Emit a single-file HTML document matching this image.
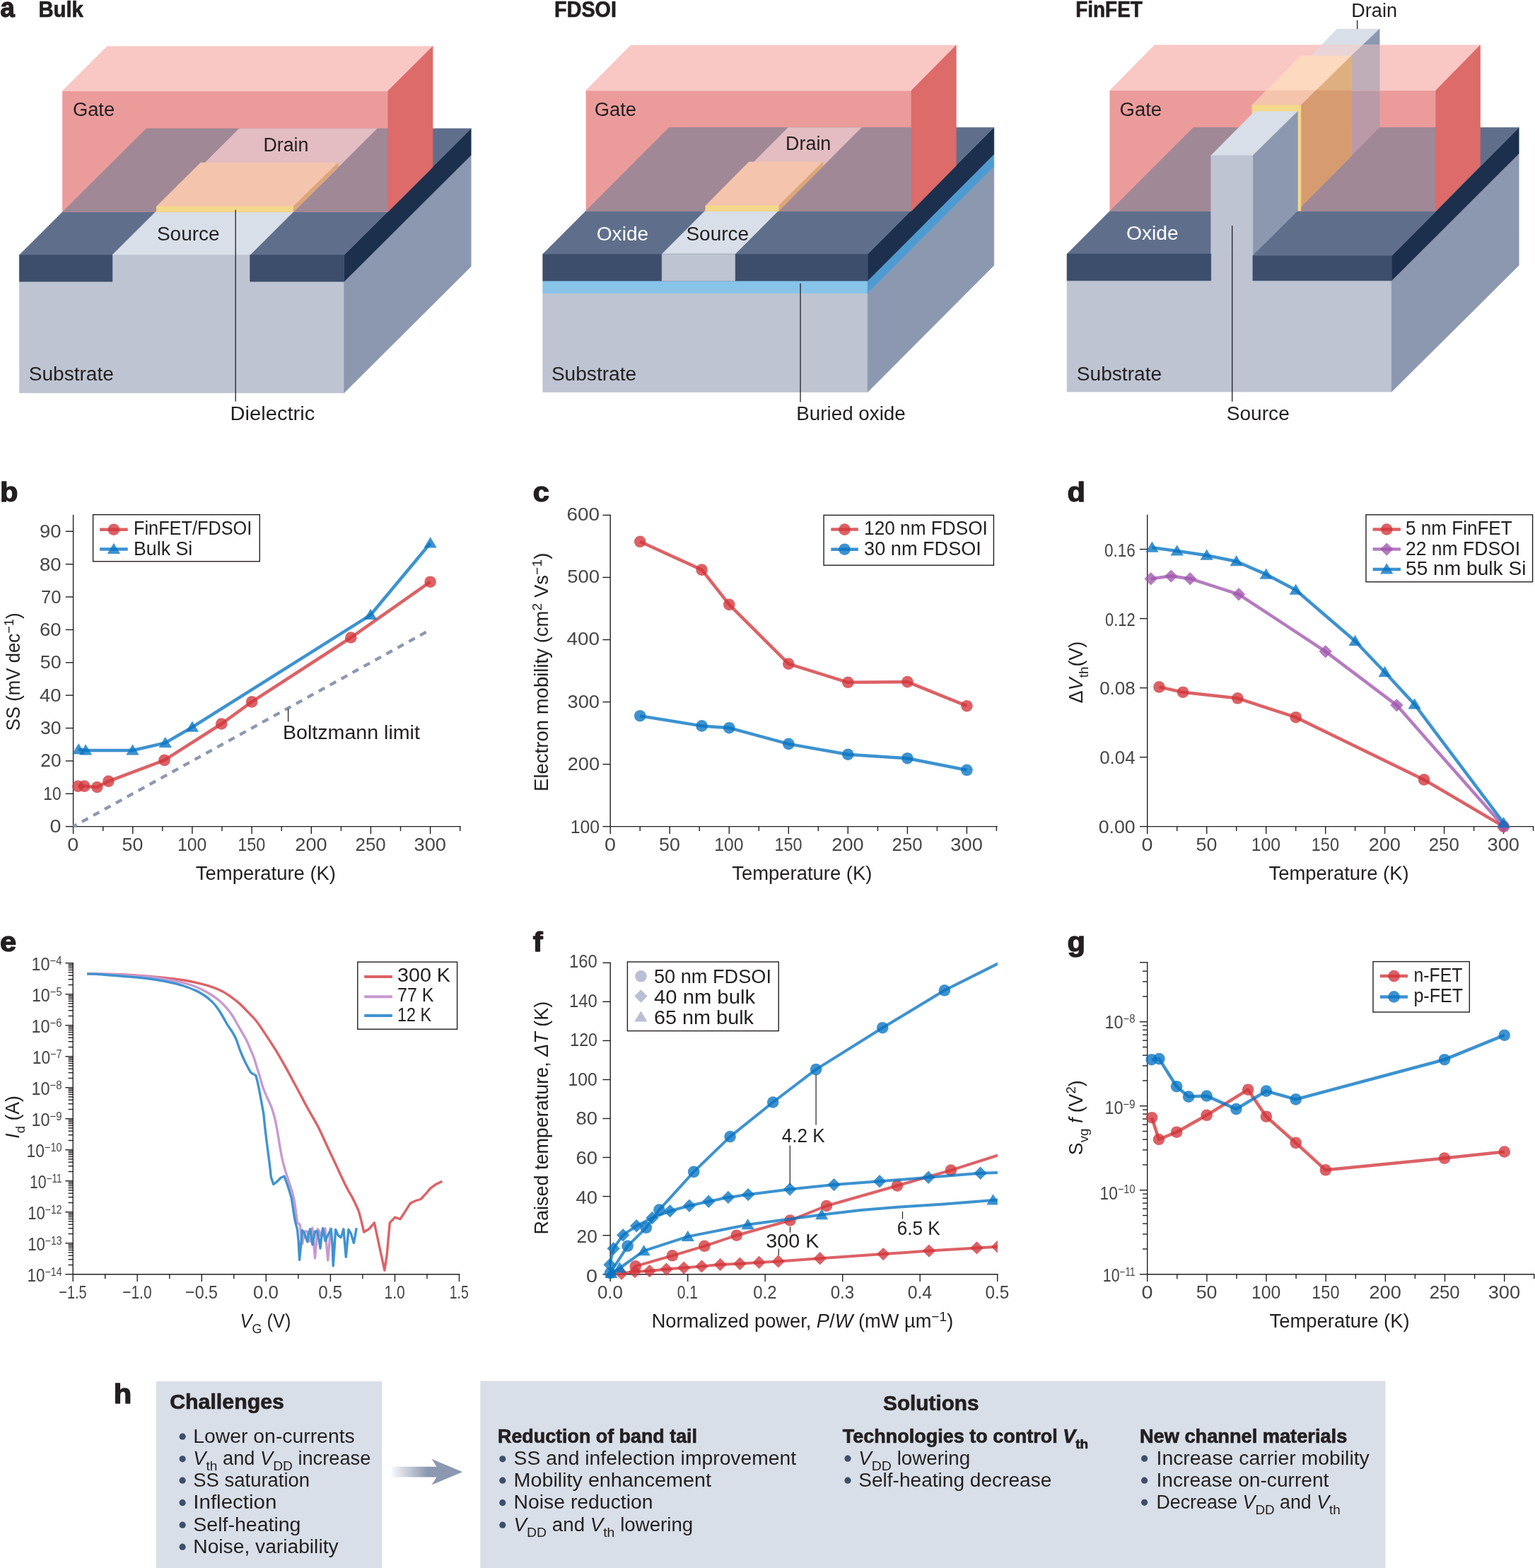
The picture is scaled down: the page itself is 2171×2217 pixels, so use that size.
<!DOCTYPE html>
<html lang="en"><head><meta charset="utf-8"><title>Cryogenic CMOS figure</title>
<style>
html,body{margin:0;padding:0;background:#fff}
body{width:2171px;height:2217px;overflow:hidden}
svg{display:block;font-family:"Liberation Sans", sans-serif}
</style></head><body>
<svg width="2171" height="2217" viewBox="0 0 2171 2217">
<rect width="2171" height="2217" fill="#ffffff"/>
<rect x="27.4" y="360.5" width="459.3" height="195.0" fill="#bec4d2" stroke="#bec4d2" stroke-width="0.6" stroke-linejoin="round" />
<polygon points="486.7,398.1 666.2,219.4 666.2,376.8 486.7,555.5" fill="#8c98b0" stroke="#8c98b0" stroke-width="0.6" stroke-linejoin="round" />
<polygon points="486.7,360.5 666.2,181.8 666.2,219.4 486.7,398.1" fill="#1c2f4d" stroke="#1c2f4d" stroke-width="0.6" stroke-linejoin="round" />
<polygon points="27.4,360.5 486.7,360.5 666.2,181.8 206.9,181.8" fill="#5f6f8b" stroke="#5f6f8b" stroke-width="0.6" stroke-linejoin="round" />
<polygon points="158.9,360.5 353.6,360.5 533.1,181.8 338.4,181.8" fill="#d9dfe8" stroke="#d9dfe8" stroke-width="0.6" stroke-linejoin="round" />
<rect x="27.4" y="360.5" width="131.5" height="37.6" fill="#3d4e6c" stroke="#3d4e6c" stroke-width="0.6" stroke-linejoin="round" />
<rect x="353.6" y="360.5" width="133.1" height="37.6" fill="#3d4e6c" stroke="#3d4e6c" stroke-width="0.6" stroke-linejoin="round" />
<rect x="88.2" y="128.5" width="460.5" height="171.1" fill="#ec9b9b" />
<clipPath id="cgb"><rect x="88.2" y="128.5" width="460.50000000000006" height="171.10000000000002"/></clipPath>
<g clip-path="url(#cgb)">
<polygon points="27.4,360.5 486.7,360.5 666.2,181.8 206.9,181.8" fill="#a08896" stroke="#a08896" stroke-width="0.6" stroke-linejoin="round" />
<polygon points="158.9,360.5 353.6,360.5 533.1,181.8 338.4,181.8" fill="#e3bdc1" stroke="#e3bdc1" stroke-width="0.6" stroke-linejoin="round" />
</g>
<polygon points="88.2,128.5 151.5,65.4 612.0,65.4 548.7,128.5" fill="#f9c8c4" stroke="#f9c8c4" stroke-width="0.6" stroke-linejoin="round" />
<polygon points="548.7,128.5 612.0,65.4 612.0,236.5 548.7,299.6" fill="#dc6b69" stroke="#dc6b69" stroke-width="0.6" stroke-linejoin="round" />
<polygon points="221.3,292.0 283.8,230.0 478.1,230.0 414.6,292.0" fill="#f5c4ad" stroke="#f5c4ad" stroke-width="0.6" stroke-linejoin="round" />
<polygon points="414.6,292.0 478.1,230.0 478.1,236.6 414.6,299.6" fill="#dda679" stroke="#dda679" stroke-width="0.6" stroke-linejoin="round" />
<rect x="221.3" y="292.0" width="193.3" height="7.6" fill="#f4d88a" stroke="#f4d88a" stroke-width="0.6" stroke-linejoin="round" />
<text x="0.6" y="24.2" font-size="39" font-weight="bold" fill="#231f20" stroke="#231f20" stroke-width="1.3" stroke-linejoin="round" textLength="20.3" lengthAdjust="spacingAndGlyphs">a</text>
<text x="54.4" y="23.6" font-size="31" fill="#231f20" font-weight="bold" stroke="#231f20" stroke-width="0.7" textLength="63.5" lengthAdjust="spacingAndGlyphs">Bulk</text>
<text x="102.9" y="164.1" font-size="27" fill="#231f20" textLength="59.3" lengthAdjust="spacingAndGlyphs">Gate</text>
<text x="372.4" y="214.0" font-size="27" fill="#231f20" textLength="64.0" lengthAdjust="spacingAndGlyphs">Drain</text>
<text x="221.9" y="339.6" font-size="27" fill="#231f20" textLength="88.7" lengthAdjust="spacingAndGlyphs">Source</text>
<text x="40.7" y="537.6" font-size="27" fill="#231f20" textLength="120.2" lengthAdjust="spacingAndGlyphs">Substrate</text>
<text x="325.6" y="594.0" font-size="27" fill="#231f20" textLength="119.7" lengthAdjust="spacingAndGlyphs">Dielectric</text>
<line x1="333.2" y1="296.8" x2="333.2" y2="567.8" stroke="#231f20" stroke-width="1.3" />
<rect x="767.7" y="414.6" width="459.4" height="139.8" fill="#bec4d2" stroke="#bec4d2" stroke-width="0.6" stroke-linejoin="round" />
<rect x="767.7" y="397.1" width="459.4" height="17.5" fill="#88c3e9" stroke="#88c3e9" stroke-width="0.6" stroke-linejoin="round" />
<polygon points="1227.1,414.6 1405.8,235.5 1405.8,375.3 1227.1,554.4" fill="#8c98b0" stroke="#8c98b0" stroke-width="0.6" stroke-linejoin="round" />
<polygon points="1227.1,397.1 1405.8,218.0 1405.8,235.5 1227.1,414.6" fill="#4f9ad0" stroke="#4f9ad0" stroke-width="0.6" stroke-linejoin="round" />
<polygon points="1227.1,359.3 1405.8,180.2 1405.8,218.0 1227.1,397.1" fill="#1c2f4d" stroke="#1c2f4d" stroke-width="0.6" stroke-linejoin="round" />
<polygon points="767.7,359.3 1227.1,359.3 1405.8,180.2 946.4,180.2" fill="#5f6f8b" stroke="#5f6f8b" stroke-width="0.6" stroke-linejoin="round" />
<polygon points="936.2,359.3 1039.6,359.3 1218.3,180.2 1114.9,180.2" fill="#d9dfe8" stroke="#d9dfe8" stroke-width="0.6" stroke-linejoin="round" />
<rect x="767.7" y="359.3" width="459.4" height="37.8" fill="#3d4e6c" stroke="#3d4e6c" stroke-width="0.6" stroke-linejoin="round" />
<rect x="936.2" y="359.3" width="103.4" height="37.8" fill="#bec4d2" stroke="#bec4d2" stroke-width="0.6" stroke-linejoin="round" />
<rect x="828.6" y="128.1" width="460.4" height="170.4" fill="#ec9b9b" />
<clipPath id="cgf"><rect x="828.6" y="128.1" width="460.4" height="170.4"/></clipPath>
<g clip-path="url(#cgf)">
<polygon points="767.7,359.3 1227.1,359.3 1405.8,180.2 946.4,180.2" fill="#a08896" stroke="#a08896" stroke-width="0.6" stroke-linejoin="round" />
<polygon points="936.2,359.3 1039.6,359.3 1218.3,180.2 1114.9,180.2" fill="#e3bdc1" stroke="#e3bdc1" stroke-width="0.6" stroke-linejoin="round" />
</g>
<polygon points="828.6,128.1 891.9,63.9 1352.3,63.9 1289.0,128.1" fill="#f9c8c4" stroke="#f9c8c4" stroke-width="0.6" stroke-linejoin="round" />
<polygon points="1289.0,128.1 1352.3,63.9 1352.3,234.3 1289.0,298.5" fill="#dc6b69" stroke="#dc6b69" stroke-width="0.6" stroke-linejoin="round" />
<polygon points="997.8,290.9 1059.3,228.9 1163.7,228.9 1101.2,290.9" fill="#f5c4ad" stroke="#f5c4ad" stroke-width="0.6" stroke-linejoin="round" />
<polygon points="1101.2,290.9 1163.7,228.9 1163.7,235.5 1101.2,298.5" fill="#dda679" stroke="#dda679" stroke-width="0.6" stroke-linejoin="round" />
<rect x="997.8" y="290.9" width="103.4" height="7.6" fill="#f4d88a" stroke="#f4d88a" stroke-width="0.6" stroke-linejoin="round" />
<text x="784.1" y="23.6" font-size="31" fill="#231f20" font-weight="bold" stroke="#231f20" stroke-width="0.7" textLength="87.8" lengthAdjust="spacingAndGlyphs">FDSOI</text>
<text x="840.7" y="164.1" font-size="27" fill="#231f20" textLength="59.3" lengthAdjust="spacingAndGlyphs">Gate</text>
<text x="1111.1" y="212.4" font-size="27" fill="#231f20" textLength="64.2" lengthAdjust="spacingAndGlyphs">Drain</text>
<text x="843.8" y="339.6" font-size="27" fill="#ffffff" textLength="73.3" lengthAdjust="spacingAndGlyphs">Oxide</text>
<text x="970.4" y="339.6" font-size="27" fill="#231f20" textLength="88.7" lengthAdjust="spacingAndGlyphs">Source</text>
<text x="779.9" y="537.5" font-size="27" fill="#231f20" textLength="120.2" lengthAdjust="spacingAndGlyphs">Substrate</text>
<text x="1126.3" y="593.8" font-size="27" fill="#231f20" textLength="154.5" lengthAdjust="spacingAndGlyphs">Buried oxide</text>
<line x1="1132.0" y1="400.4" x2="1132.0" y2="568.5" stroke="#231f20" stroke-width="1.3" />
<polygon points="1509.1,358.8 1968.2,358.8 1968.2,554.0 1509.1,554.0" fill="#bec4d2" stroke="#bec4d2" stroke-width="0.6" stroke-linejoin="round" />
<polygon points="1968.2,396.8 2148.2,217.2 2148.2,375.2 1968.2,554.0" fill="#8c98b0" stroke="#8c98b0" stroke-width="0.6" stroke-linejoin="round" />
<polygon points="1968.2,361.7 2148.2,180.3 2148.2,217.2 1968.2,396.8" fill="#1c2f4d" stroke="#1c2f4d" stroke-width="0.6" stroke-linejoin="round" />
<polygon points="1509.1,359.1 1771.9,359.1 1771.9,361.7 1968.2,361.7 2148.2,180.3 1688.0,180.3" fill="#5f6f8b" stroke="#5f6f8b" stroke-width="0.6" stroke-linejoin="round" />
<polygon points="1854.3,79.0 1891.1,41.0 1951.1,41.0 1911.3,79.0" fill="#d9dfe8" stroke="#d9dfe8" stroke-width="0.6" stroke-linejoin="round" />
<polygon points="1911.3,79.0 1951.1,41.0 1951.1,180.0 1911.3,220.2" fill="#8c98b0" stroke="#8c98b0" stroke-width="0.6" stroke-linejoin="round" />
<polygon points="1569.5,128.0 2030.5,128.0 2030.5,298.6 1569.5,298.6" fill="#ec9b9b" />
<clipPath id="cgn"><polygon points="1569.5,128.0 2030.5,128.0 2030.5,298.6 1569.5,298.6"/></clipPath>
<g clip-path="url(#cgn)">
<polygon points="1509.1,359.1 1771.9,359.1 1771.9,361.7 1968.2,361.7 2148.2,180.3 1688.0,180.3" fill="#a08896" stroke="#a08896" stroke-width="0.6" stroke-linejoin="round" />
<polygon points="1911.3,79.0 1951.1,41.0 1951.1,180.0 1911.3,220.2" fill="#ba9aa6" stroke="#ba9aa6" stroke-width="0.6" stroke-linejoin="round" />
</g>
<polygon points="1569.5,128.0 1632.9,63.8 2093.5,63.8 2030.5,128.0" fill="#f9c8c4" stroke="#f9c8c4" stroke-width="0.6" stroke-linejoin="round" />
<clipPath id="cgt"><polygon points="1569.5,128.0 1632.9,63.8 2093.5,63.8 2030.5,128.0"/></clipPath>
<g clip-path="url(#cgt)">
<polygon points="1854.3,79.0 1891.1,41.0 1951.1,41.0 1911.3,79.0" fill="#ead5d6" stroke="#ead5d6" stroke-width="0.6" stroke-linejoin="round" />
<polygon points="1911.3,79.0 1951.1,41.0 1951.1,180.0 1911.3,220.2" fill="#bfadb8" stroke="#bfadb8" stroke-width="0.6" stroke-linejoin="round" />
</g>
<polygon points="2030.5,128.0 2093.5,63.8 2093.5,234.7 2030.5,298.6" fill="#dc6b69" stroke="#dc6b69" stroke-width="0.6" stroke-linejoin="round" />
<polygon points="1770.8,148.9 1839.1,79.0 1911.3,79.0 1839.9,148.9" fill="#fdd9c0" stroke="#fdd9c0" stroke-width="0.6" stroke-linejoin="round" />
<polygon points="1770.8,148.9 1791.6,128.0 1861.1,128.0 1839.9,148.9" fill="#f5c4ad" stroke="#f5c4ad" stroke-width="0.6" stroke-linejoin="round" />
<polygon points="1839.9,148.9 1911.3,79.0 1911.3,220.2 1839.9,292.4" fill="#dfb07f" stroke="#dfb07f" stroke-width="0.6" stroke-linejoin="round" />
<polygon points="1839.9,148.9 1861.1,128.0 1911.3,128.0 1911.3,220.2 1839.9,292.4" fill="#d79b70" stroke="#d79b70" stroke-width="0.6" stroke-linejoin="round" />
<polygon points="1770.8,148.9 1839.9,148.9 1839.9,298.1 1770.8,298.1" fill="#f4d88a" stroke="#f4d88a" stroke-width="0.6" stroke-linejoin="round" />
<polygon points="1712.7,219.9 1774.6,157.6 1835.3,157.6 1771.9,219.9" fill="#d9dfe8" stroke="#d9dfe8" stroke-width="0.6" stroke-linejoin="round" />
<polygon points="1771.9,219.9 1835.3,157.6 1835.3,298.1 1771.9,360.7" fill="#8c98b0" stroke="#8c98b0" stroke-width="0.6" stroke-linejoin="round" />
<polygon points="1712.7,219.9 1771.9,219.9 1771.9,360.7 1712.7,360.7" fill="#bec4d2" stroke="#bec4d2" stroke-width="0.6" stroke-linejoin="round" />
<polygon points="1509.1,359.1 1712.7,359.1 1712.7,396.8 1509.1,396.8" fill="#3d4e6c" stroke="#3d4e6c" stroke-width="0.6" stroke-linejoin="round" />
<polygon points="1771.9,361.7 1968.2,361.7 1968.2,396.8 1771.9,396.8" fill="#3d4e6c" stroke="#3d4e6c" stroke-width="0.6" stroke-linejoin="round" />
<text x="1521.3" y="23.6" font-size="31" fill="#231f20" font-weight="bold" stroke="#231f20" stroke-width="0.7" textLength="94.5" lengthAdjust="spacingAndGlyphs">FinFET</text>
<text x="1911.3" y="23.5" font-size="27" fill="#231f20" textLength="64.7" lengthAdjust="spacingAndGlyphs">Drain</text>
<line x1="1919.6" y1="28.5" x2="1919.6" y2="41.0" stroke="#231f20" stroke-width="1.3" />
<text x="1583.6" y="164.1" font-size="27" fill="#231f20" textLength="59.5" lengthAdjust="spacingAndGlyphs">Gate</text>
<text x="1593.0" y="339.3" font-size="27" fill="#ffffff" textLength="73.8" lengthAdjust="spacingAndGlyphs">Oxide</text>
<text x="1522.8" y="537.5" font-size="27" fill="#231f20" textLength="120.3" lengthAdjust="spacingAndGlyphs">Substrate</text>
<text x="1734.7" y="594.0" font-size="27" fill="#231f20" textLength="89.1" lengthAdjust="spacingAndGlyphs">Source</text>
<line x1="1742.7" y1="319.0" x2="1742.7" y2="567.7" stroke="#231f20" stroke-width="1.3" />
<line x1="103.6" y1="727.7" x2="103.6" y2="1168.6" stroke="#231f20" stroke-width="1.4" />
<line x1="103.6" y1="1168.6" x2="651.7" y2="1168.6" stroke="#231f20" stroke-width="1.4" />
<line x1="103.6" y1="1168.6" x2="103.6" y2="1179.0" stroke="#231f20" stroke-width="1.4" />
<text x="103.3" y="1203.2" font-size="26" fill="#454545" text-anchor="middle" textLength="16.0" lengthAdjust="spacingAndGlyphs">0</text>
<line x1="187.8" y1="1168.6" x2="187.8" y2="1179.0" stroke="#231f20" stroke-width="1.4" />
<text x="187.5" y="1203.2" font-size="26" fill="#454545" text-anchor="middle" textLength="29.8" lengthAdjust="spacingAndGlyphs">50</text>
<line x1="271.9" y1="1168.6" x2="271.9" y2="1179.0" stroke="#231f20" stroke-width="1.4" />
<text x="271.6" y="1203.2" font-size="26" fill="#454545" text-anchor="middle" textLength="41.3" lengthAdjust="spacingAndGlyphs">100</text>
<line x1="356.1" y1="1168.6" x2="356.1" y2="1179.0" stroke="#231f20" stroke-width="1.4" />
<text x="355.8" y="1203.2" font-size="26" fill="#454545" text-anchor="middle" textLength="39.1" lengthAdjust="spacingAndGlyphs">150</text>
<line x1="440.3" y1="1168.6" x2="440.3" y2="1179.0" stroke="#231f20" stroke-width="1.4" />
<text x="440.0" y="1203.2" font-size="26" fill="#454545" text-anchor="middle" textLength="45.3" lengthAdjust="spacingAndGlyphs">200</text>
<line x1="524.4" y1="1168.6" x2="524.4" y2="1179.0" stroke="#231f20" stroke-width="1.4" />
<text x="524.1" y="1203.2" font-size="26" fill="#454545" text-anchor="middle" textLength="43.1" lengthAdjust="spacingAndGlyphs">250</text>
<line x1="608.6" y1="1168.6" x2="608.6" y2="1179.0" stroke="#231f20" stroke-width="1.4" />
<text x="608.3" y="1203.2" font-size="26" fill="#454545" text-anchor="middle" textLength="45.5" lengthAdjust="spacingAndGlyphs">300</text>
<line x1="145.7" y1="1168.6" x2="145.7" y2="1174.9" stroke="#231f20" stroke-width="1.4" />
<line x1="229.8" y1="1168.6" x2="229.8" y2="1174.9" stroke="#231f20" stroke-width="1.4" />
<line x1="314.0" y1="1168.6" x2="314.0" y2="1174.9" stroke="#231f20" stroke-width="1.4" />
<line x1="398.2" y1="1168.6" x2="398.2" y2="1174.9" stroke="#231f20" stroke-width="1.4" />
<line x1="482.4" y1="1168.6" x2="482.4" y2="1174.9" stroke="#231f20" stroke-width="1.4" />
<line x1="566.5" y1="1168.6" x2="566.5" y2="1174.9" stroke="#231f20" stroke-width="1.4" />
<line x1="650.7" y1="1168.6" x2="650.7" y2="1174.9" stroke="#231f20" stroke-width="1.4" />
<line x1="92.8" y1="1168.6" x2="103.6" y2="1168.6" stroke="#231f20" stroke-width="1.4" />
<text x="86.6" y="1176.8" font-size="26" fill="#454545" text-anchor="end" textLength="16.0" lengthAdjust="spacingAndGlyphs">0</text>
<line x1="92.8" y1="1122.2" x2="103.6" y2="1122.2" stroke="#231f20" stroke-width="1.4" />
<text x="86.6" y="1130.5" font-size="26" fill="#454545" text-anchor="end" textLength="25.3" lengthAdjust="spacingAndGlyphs">10</text>
<line x1="92.8" y1="1075.9" x2="103.6" y2="1075.9" stroke="#231f20" stroke-width="1.4" />
<text x="86.6" y="1084.2" font-size="26" fill="#454545" text-anchor="end" textLength="29.3" lengthAdjust="spacingAndGlyphs">20</text>
<line x1="92.8" y1="1029.5" x2="103.6" y2="1029.5" stroke="#231f20" stroke-width="1.4" />
<text x="86.6" y="1037.9" font-size="26" fill="#454545" text-anchor="end" textLength="29.5" lengthAdjust="spacingAndGlyphs">30</text>
<line x1="92.8" y1="983.1" x2="103.6" y2="983.1" stroke="#231f20" stroke-width="1.4" />
<text x="86.6" y="991.6" font-size="26" fill="#454545" text-anchor="end" textLength="30.5" lengthAdjust="spacingAndGlyphs">40</text>
<line x1="92.8" y1="936.8" x2="103.6" y2="936.8" stroke="#231f20" stroke-width="1.4" />
<text x="86.6" y="945.3" font-size="26" fill="#454545" text-anchor="end" textLength="29.8" lengthAdjust="spacingAndGlyphs">50</text>
<line x1="92.8" y1="890.4" x2="103.6" y2="890.4" stroke="#231f20" stroke-width="1.4" />
<text x="86.6" y="899.0" font-size="26" fill="#454545" text-anchor="end" textLength="30.5" lengthAdjust="spacingAndGlyphs">60</text>
<line x1="92.8" y1="844.0" x2="103.6" y2="844.0" stroke="#231f20" stroke-width="1.4" />
<text x="86.6" y="852.7" font-size="26" fill="#454545" text-anchor="end" textLength="28.5" lengthAdjust="spacingAndGlyphs">70</text>
<line x1="92.8" y1="797.7" x2="103.6" y2="797.7" stroke="#231f20" stroke-width="1.4" />
<text x="86.6" y="806.5" font-size="26" fill="#454545" text-anchor="end" textLength="30.5" lengthAdjust="spacingAndGlyphs">80</text>
<line x1="92.8" y1="751.3" x2="103.6" y2="751.3" stroke="#231f20" stroke-width="1.4" />
<text x="86.6" y="760.2" font-size="26" fill="#454545" text-anchor="end" textLength="30.5" lengthAdjust="spacingAndGlyphs">90</text>
<line x1="103.6" y1="1168.6" x2="608.6" y2="890.4" stroke="#8c98b0" stroke-width="4.3" stroke-dasharray="9.6 8.6" stroke-dashoffset="4"/>
<polyline points="110.3,1111.6 119.3,1111.6 137.3,1113.0 153.4,1104.6 232.5,1074.9 313.2,1023.5 356.1,992.4 496.3,901.5 608.6,822.7" fill="none" stroke="#d2353a" stroke-width="4.5" stroke-linejoin="round" opacity="0.78" />
<circle cx="110.3" cy="1111.6" r="8.3" fill="#d2353a" opacity="0.78"/>
<circle cx="119.3" cy="1111.6" r="8.3" fill="#d2353a" opacity="0.78"/>
<circle cx="137.3" cy="1113.0" r="8.3" fill="#d2353a" opacity="0.78"/>
<circle cx="153.4" cy="1104.6" r="8.3" fill="#d2353a" opacity="0.78"/>
<circle cx="232.5" cy="1074.9" r="8.3" fill="#d2353a" opacity="0.78"/>
<circle cx="313.2" cy="1023.5" r="8.3" fill="#d2353a" opacity="0.78"/>
<circle cx="356.1" cy="992.4" r="8.3" fill="#d2353a" opacity="0.78"/>
<circle cx="496.3" cy="901.5" r="8.3" fill="#d2353a" opacity="0.78"/>
<circle cx="608.6" cy="822.7" r="8.3" fill="#d2353a" opacity="0.78"/>
<polyline points="111.2,1059.6 121.1,1061.0 187.6,1061.0 233.7,1050.4 271.9,1028.1 524.1,869.5 608.6,768.0" fill="none" stroke="#0773c2" stroke-width="4.5" stroke-linejoin="round" opacity="0.78" />
<polygon points="111.2,1050.9 120.3,1066.2 102.0,1066.2" fill="#0773c2" opacity="0.78"/>
<polygon points="121.1,1052.3 130.3,1067.6 112.0,1067.6" fill="#0773c2" opacity="0.78"/>
<polygon points="187.6,1052.3 196.7,1067.6 178.4,1067.6" fill="#0773c2" opacity="0.78"/>
<polygon points="233.7,1041.7 242.9,1057.0 224.6,1057.0" fill="#0773c2" opacity="0.78"/>
<polygon points="271.9,1019.4 281.1,1034.7 262.8,1034.7" fill="#0773c2" opacity="0.78"/>
<polygon points="524.1,860.8 533.2,876.1 514.9,876.1" fill="#0773c2" opacity="0.78"/>
<polygon points="608.6,759.3 617.8,774.6 599.5,774.6" fill="#0773c2" opacity="0.78"/>
<rect x="131.6" y="727.7" width="235.7" height="66.1" fill="#ffffff" stroke="#231f20" stroke-width="1.4"/>
<line x1="141.1" y1="748.7" x2="180.7" y2="748.7" stroke="#d2353a" stroke-width="4.5" opacity="0.78"/>
<circle cx="160.9" cy="748.7" r="8.3" fill="#d2353a" opacity="0.78"/>
<text x="189.0" y="756.3" font-size="27" fill="#231f20" textLength="167.3" lengthAdjust="spacingAndGlyphs">FinFET/FDSOI</text>
<line x1="141.1" y1="776.4" x2="180.7" y2="776.4" stroke="#0773c2" stroke-width="4.5" opacity="0.78"/>
<polygon points="160.9,767.7 170.0,783.0 151.7,783.0" fill="#0773c2" opacity="0.78"/>
<text x="189.0" y="785.2" font-size="27" fill="#231f20" textLength="83.2" lengthAdjust="spacingAndGlyphs">Bulk Si</text>
<text x="400.0" y="1044.8" font-size="27" fill="#231f20" textLength="193.9" lengthAdjust="spacingAndGlyphs">Boltzmann limit</text>
<line x1="407.6" y1="1002.2" x2="407.6" y2="1020.5" stroke="#231f20" stroke-width="1.3" />
<text x="375.9" y="1243.7" font-size="27" fill="#231f20" text-anchor="middle" textLength="198.1" lengthAdjust="spacingAndGlyphs">Temperature (K)</text>
<text x="28.5" y="949.9" font-size="27" fill="#231f20" text-anchor="middle" textLength="166.9" lengthAdjust="spacingAndGlyphs" transform="rotate(-90 28.5 949.9)">SS (mV dec<tspan font-size="19" dy="-9.5" font-style="normal">−1</tspan><tspan dy="9.5">)</tspan></text>
<text x="0.0" y="708.7" font-size="39" font-weight="bold" fill="#231f20" stroke="#231f20" stroke-width="1.3" stroke-linejoin="round" textLength="25.5" lengthAdjust="spacingAndGlyphs">b</text>
<line x1="863.2" y1="727.7" x2="863.2" y2="1168.6" stroke="#231f20" stroke-width="1.4" />
<line x1="863.2" y1="1168.6" x2="1410.7" y2="1168.6" stroke="#231f20" stroke-width="1.4" />
<line x1="863.2" y1="1168.6" x2="863.2" y2="1179.0" stroke="#231f20" stroke-width="1.4" />
<text x="862.9" y="1203.2" font-size="26" fill="#454545" text-anchor="middle" textLength="16.0" lengthAdjust="spacingAndGlyphs">0</text>
<line x1="947.2" y1="1168.6" x2="947.2" y2="1179.0" stroke="#231f20" stroke-width="1.4" />
<text x="946.9" y="1203.2" font-size="26" fill="#454545" text-anchor="middle" textLength="29.8" lengthAdjust="spacingAndGlyphs">50</text>
<line x1="1031.3" y1="1168.6" x2="1031.3" y2="1179.0" stroke="#231f20" stroke-width="1.4" />
<text x="1031.0" y="1203.2" font-size="26" fill="#454545" text-anchor="middle" textLength="41.3" lengthAdjust="spacingAndGlyphs">100</text>
<line x1="1115.3" y1="1168.6" x2="1115.3" y2="1179.0" stroke="#231f20" stroke-width="1.4" />
<text x="1115.0" y="1203.2" font-size="26" fill="#454545" text-anchor="middle" textLength="39.1" lengthAdjust="spacingAndGlyphs">150</text>
<line x1="1199.3" y1="1168.6" x2="1199.3" y2="1179.0" stroke="#231f20" stroke-width="1.4" />
<text x="1199.0" y="1203.2" font-size="26" fill="#454545" text-anchor="middle" textLength="45.3" lengthAdjust="spacingAndGlyphs">200</text>
<line x1="1283.4" y1="1168.6" x2="1283.4" y2="1179.0" stroke="#231f20" stroke-width="1.4" />
<text x="1283.1" y="1203.2" font-size="26" fill="#454545" text-anchor="middle" textLength="43.1" lengthAdjust="spacingAndGlyphs">250</text>
<line x1="1367.4" y1="1168.6" x2="1367.4" y2="1179.0" stroke="#231f20" stroke-width="1.4" />
<text x="1367.1" y="1203.2" font-size="26" fill="#454545" text-anchor="middle" textLength="45.5" lengthAdjust="spacingAndGlyphs">300</text>
<line x1="905.2" y1="1168.6" x2="905.2" y2="1174.9" stroke="#231f20" stroke-width="1.4" />
<line x1="989.2" y1="1168.6" x2="989.2" y2="1174.9" stroke="#231f20" stroke-width="1.4" />
<line x1="1073.3" y1="1168.6" x2="1073.3" y2="1174.9" stroke="#231f20" stroke-width="1.4" />
<line x1="1157.3" y1="1168.6" x2="1157.3" y2="1174.9" stroke="#231f20" stroke-width="1.4" />
<line x1="1241.4" y1="1168.6" x2="1241.4" y2="1174.9" stroke="#231f20" stroke-width="1.4" />
<line x1="1325.4" y1="1168.6" x2="1325.4" y2="1174.9" stroke="#231f20" stroke-width="1.4" />
<line x1="1409.4" y1="1168.6" x2="1409.4" y2="1174.9" stroke="#231f20" stroke-width="1.4" />
<line x1="852.4" y1="1168.6" x2="863.2" y2="1168.6" stroke="#231f20" stroke-width="1.4" />
<text x="848.0" y="1177.5" font-size="26" fill="#454545" text-anchor="end" textLength="41.3" lengthAdjust="spacingAndGlyphs">100</text>
<line x1="852.4" y1="1080.6" x2="863.2" y2="1080.6" stroke="#231f20" stroke-width="1.4" />
<text x="848.0" y="1089.1" font-size="26" fill="#454545" text-anchor="end" textLength="45.3" lengthAdjust="spacingAndGlyphs">200</text>
<line x1="852.4" y1="992.5" x2="863.2" y2="992.5" stroke="#231f20" stroke-width="1.4" />
<text x="848.0" y="1000.7" font-size="26" fill="#454545" text-anchor="end" textLength="45.5" lengthAdjust="spacingAndGlyphs">300</text>
<line x1="852.4" y1="904.5" x2="863.2" y2="904.5" stroke="#231f20" stroke-width="1.4" />
<text x="848.0" y="912.4" font-size="26" fill="#454545" text-anchor="end" textLength="46.5" lengthAdjust="spacingAndGlyphs">400</text>
<line x1="852.4" y1="816.4" x2="863.2" y2="816.4" stroke="#231f20" stroke-width="1.4" />
<text x="848.0" y="824.0" font-size="26" fill="#454545" text-anchor="end" textLength="45.8" lengthAdjust="spacingAndGlyphs">500</text>
<line x1="852.4" y1="728.4" x2="863.2" y2="728.4" stroke="#231f20" stroke-width="1.4" />
<text x="848.0" y="735.6" font-size="26" fill="#454545" text-anchor="end" textLength="46.5" lengthAdjust="spacingAndGlyphs">600</text>
<polyline points="905.2,765.8 992.6,805.6 1031.3,854.9 1115.3,938.6 1199.3,964.8 1283.4,964.1 1367.4,998.2" fill="none" stroke="#d2353a" stroke-width="4.5" stroke-linejoin="round" opacity="0.78" />
<circle cx="905.2" cy="765.8" r="8.3" fill="#d2353a" opacity="0.78"/>
<circle cx="992.6" cy="805.6" r="8.3" fill="#d2353a" opacity="0.78"/>
<circle cx="1031.3" cy="854.9" r="8.3" fill="#d2353a" opacity="0.78"/>
<circle cx="1115.3" cy="938.6" r="8.3" fill="#d2353a" opacity="0.78"/>
<circle cx="1199.3" cy="964.8" r="8.3" fill="#d2353a" opacity="0.78"/>
<circle cx="1283.4" cy="964.1" r="8.3" fill="#d2353a" opacity="0.78"/>
<circle cx="1367.4" cy="998.2" r="8.3" fill="#d2353a" opacity="0.78"/>
<polyline points="905.2,1012.2 992.6,1026.4 1031.3,1029.2 1115.3,1051.9 1199.3,1066.7 1283.4,1072.2 1367.4,1088.8" fill="none" stroke="#0773c2" stroke-width="4.5" stroke-linejoin="round" opacity="0.78" />
<circle cx="905.2" cy="1012.2" r="8.3" fill="#0773c2" opacity="0.78"/>
<circle cx="992.6" cy="1026.4" r="8.3" fill="#0773c2" opacity="0.78"/>
<circle cx="1031.3" cy="1029.2" r="8.3" fill="#0773c2" opacity="0.78"/>
<circle cx="1115.3" cy="1051.9" r="8.3" fill="#0773c2" opacity="0.78"/>
<circle cx="1199.3" cy="1066.7" r="8.3" fill="#0773c2" opacity="0.78"/>
<circle cx="1283.4" cy="1072.2" r="8.3" fill="#0773c2" opacity="0.78"/>
<circle cx="1367.4" cy="1088.8" r="8.3" fill="#0773c2" opacity="0.78"/>
<rect x="1165.1" y="728.4" width="240.3" height="70.8" fill="#ffffff" stroke="#231f20" stroke-width="1.4"/>
<line x1="1175.3" y1="748.6" x2="1213.8" y2="748.6" stroke="#d2353a" stroke-width="4.5" opacity="0.78"/>
<circle cx="1194.5" cy="748.6" r="8.3" fill="#d2353a" opacity="0.78"/>
<text x="1222.1" y="756.2" font-size="27" fill="#231f20" textLength="174.8" lengthAdjust="spacingAndGlyphs">120 nm FDSOI</text>
<line x1="1175.3" y1="776.7" x2="1213.8" y2="776.7" stroke="#0773c2" stroke-width="4.5" opacity="0.78"/>
<circle cx="1194.5" cy="776.7" r="8.3" fill="#0773c2" opacity="0.78"/>
<text x="1222.1" y="785.2" font-size="27" fill="#231f20" textLength="165.8" lengthAdjust="spacingAndGlyphs">30 nm FDSOI</text>
<text x="1134.3" y="1243.7" font-size="27" fill="#231f20" text-anchor="middle" textLength="198.1" lengthAdjust="spacingAndGlyphs">Temperature (K)</text>
<text x="775.3" y="950.3" font-size="27" fill="#231f20" text-anchor="middle" textLength="337.3" lengthAdjust="spacingAndGlyphs" transform="rotate(-90 775.3 950.3)">Electron mobility (cm<tspan font-size="19" dy="-9.5" font-style="normal">2</tspan><tspan dy="9.5"> Vs</tspan><tspan font-size="19" dy="-9.5" font-style="normal">−1</tspan><tspan dy="9.5">)</tspan></text>
<text x="753.7" y="708.7" font-size="39" font-weight="bold" fill="#231f20" stroke="#231f20" stroke-width="1.3" stroke-linejoin="round" textLength="23.2" lengthAdjust="spacingAndGlyphs">c</text>
<line x1="1622.7" y1="727.7" x2="1622.7" y2="1168.6" stroke="#231f20" stroke-width="1.4" />
<line x1="1622.7" y1="1168.6" x2="2169.0" y2="1168.6" stroke="#231f20" stroke-width="1.4" />
<line x1="1622.7" y1="1168.6" x2="1622.7" y2="1179.0" stroke="#231f20" stroke-width="1.4" />
<text x="1622.4" y="1203.2" font-size="26" fill="#454545" text-anchor="middle" textLength="16.0" lengthAdjust="spacingAndGlyphs">0</text>
<line x1="1706.7" y1="1168.6" x2="1706.7" y2="1179.0" stroke="#231f20" stroke-width="1.4" />
<text x="1706.4" y="1203.2" font-size="26" fill="#454545" text-anchor="middle" textLength="29.8" lengthAdjust="spacingAndGlyphs">50</text>
<line x1="1790.7" y1="1168.6" x2="1790.7" y2="1179.0" stroke="#231f20" stroke-width="1.4" />
<text x="1790.4" y="1203.2" font-size="26" fill="#454545" text-anchor="middle" textLength="41.3" lengthAdjust="spacingAndGlyphs">100</text>
<line x1="1874.7" y1="1168.6" x2="1874.7" y2="1179.0" stroke="#231f20" stroke-width="1.4" />
<text x="1874.4" y="1203.2" font-size="26" fill="#454545" text-anchor="middle" textLength="39.1" lengthAdjust="spacingAndGlyphs">150</text>
<line x1="1958.6" y1="1168.6" x2="1958.6" y2="1179.0" stroke="#231f20" stroke-width="1.4" />
<text x="1958.3" y="1203.2" font-size="26" fill="#454545" text-anchor="middle" textLength="45.3" lengthAdjust="spacingAndGlyphs">200</text>
<line x1="2042.6" y1="1168.6" x2="2042.6" y2="1179.0" stroke="#231f20" stroke-width="1.4" />
<text x="2042.3" y="1203.2" font-size="26" fill="#454545" text-anchor="middle" textLength="43.1" lengthAdjust="spacingAndGlyphs">250</text>
<line x1="2126.6" y1="1168.6" x2="2126.6" y2="1179.0" stroke="#231f20" stroke-width="1.4" />
<text x="2126.3" y="1203.2" font-size="26" fill="#454545" text-anchor="middle" textLength="45.5" lengthAdjust="spacingAndGlyphs">300</text>
<line x1="1664.7" y1="1168.6" x2="1664.7" y2="1174.9" stroke="#231f20" stroke-width="1.4" />
<line x1="1748.7" y1="1168.6" x2="1748.7" y2="1174.9" stroke="#231f20" stroke-width="1.4" />
<line x1="1832.7" y1="1168.6" x2="1832.7" y2="1174.9" stroke="#231f20" stroke-width="1.4" />
<line x1="1916.6" y1="1168.6" x2="1916.6" y2="1174.9" stroke="#231f20" stroke-width="1.4" />
<line x1="2000.6" y1="1168.6" x2="2000.6" y2="1174.9" stroke="#231f20" stroke-width="1.4" />
<line x1="2084.6" y1="1168.6" x2="2084.6" y2="1174.9" stroke="#231f20" stroke-width="1.4" />
<line x1="2168.6" y1="1168.6" x2="2168.6" y2="1174.9" stroke="#231f20" stroke-width="1.4" />
<line x1="1611.9" y1="1168.6" x2="1622.7" y2="1168.6" stroke="#231f20" stroke-width="1.4" />
<text x="1605.7" y="1177.6" font-size="26" fill="#454545" text-anchor="end" textLength="52.0" lengthAdjust="spacingAndGlyphs">0.00</text>
<line x1="1611.9" y1="1070.6" x2="1622.7" y2="1070.6" stroke="#231f20" stroke-width="1.4" />
<text x="1605.7" y="1079.9" font-size="26" fill="#454545" text-anchor="end" textLength="50.5" lengthAdjust="spacingAndGlyphs">0.04</text>
<line x1="1611.9" y1="972.6" x2="1622.7" y2="972.6" stroke="#231f20" stroke-width="1.4" />
<text x="1605.7" y="982.2" font-size="26" fill="#454545" text-anchor="end" textLength="50.5" lengthAdjust="spacingAndGlyphs">0.08</text>
<line x1="1611.9" y1="874.6" x2="1622.7" y2="874.6" stroke="#231f20" stroke-width="1.4" />
<text x="1605.7" y="884.5" font-size="26" fill="#454545" text-anchor="end" textLength="42.6" lengthAdjust="spacingAndGlyphs">0.12</text>
<line x1="1611.9" y1="776.6" x2="1622.7" y2="776.6" stroke="#231f20" stroke-width="1.4" />
<text x="1605.7" y="786.8" font-size="26" fill="#454545" text-anchor="end" textLength="43.8" lengthAdjust="spacingAndGlyphs">0.16</text>
<polyline points="1639.5,971.4 1673.1,978.7 1750.4,987.3 1832.7,1014.2 2014.1,1102.4 2126.6,1168.6" fill="none" stroke="#d2353a" stroke-width="4.5" stroke-linejoin="round" opacity="0.78" />
<circle cx="1639.5" cy="971.4" r="8.3" fill="#d2353a" opacity="0.78"/>
<circle cx="1673.1" cy="978.7" r="8.3" fill="#d2353a" opacity="0.78"/>
<circle cx="1750.4" cy="987.3" r="8.3" fill="#d2353a" opacity="0.78"/>
<circle cx="1832.7" cy="1014.2" r="8.3" fill="#d2353a" opacity="0.78"/>
<circle cx="2014.1" cy="1102.4" r="8.3" fill="#d2353a" opacity="0.78"/>
<circle cx="2126.6" cy="1168.6" r="8.3" fill="#d2353a" opacity="0.78"/>
<polyline points="1627.7,818.2 1656.3,814.6 1683.2,818.2 1752.0,840.3 1874.7,921.1 1975.4,997.1 2126.6,1168.6" fill="none" stroke="#a056ae" stroke-width="4.5" stroke-linejoin="round" opacity="0.78" />
<polygon points="1627.7,809.0 1636.9,818.2 1627.7,827.5 1618.5,818.2" fill="#a056ae" opacity="0.78"/>
<polygon points="1656.3,805.4 1665.5,814.6 1656.3,823.8 1647.1,814.6" fill="#a056ae" opacity="0.78"/>
<polygon points="1683.2,809.0 1692.4,818.2 1683.2,827.5 1674.0,818.2" fill="#a056ae" opacity="0.78"/>
<polygon points="1752.0,831.1 1761.2,840.3 1752.0,849.5 1742.8,840.3" fill="#a056ae" opacity="0.78"/>
<polygon points="1874.7,911.9 1883.9,921.1 1874.7,930.4 1865.5,921.1" fill="#a056ae" opacity="0.78"/>
<polygon points="1975.4,987.9 1984.6,997.1 1975.4,1006.3 1966.2,997.1" fill="#a056ae" opacity="0.78"/>
<polygon points="2126.6,1159.4 2135.8,1168.6 2126.6,1177.8 2117.4,1168.6" fill="#a056ae" opacity="0.78"/>
<polyline points="1629.4,774.2 1664.7,779.1 1706.7,785.2 1748.7,793.8 1790.7,812.1 1832.7,834.2 1916.6,906.5 1958.6,950.5 2000.6,995.9 2126.6,1163.7" fill="none" stroke="#0773c2" stroke-width="4.5" stroke-linejoin="round" opacity="0.78" />
<polygon points="1629.4,765.5 1638.6,780.8 1620.3,780.8" fill="#0773c2" opacity="0.78"/>
<polygon points="1664.7,770.4 1673.8,785.6 1655.5,785.6" fill="#0773c2" opacity="0.78"/>
<polygon points="1706.7,776.5 1715.8,791.8 1697.5,791.8" fill="#0773c2" opacity="0.78"/>
<polygon points="1748.7,785.0 1757.8,800.3 1739.5,800.3" fill="#0773c2" opacity="0.78"/>
<polygon points="1790.7,803.4 1799.8,818.7 1781.5,818.7" fill="#0773c2" opacity="0.78"/>
<polygon points="1832.7,825.5 1841.8,840.8 1823.5,840.8" fill="#0773c2" opacity="0.78"/>
<polygon points="1916.6,897.8 1925.8,913.0 1907.5,913.0" fill="#0773c2" opacity="0.78"/>
<polygon points="1958.6,941.8 1967.8,957.1 1949.5,957.1" fill="#0773c2" opacity="0.78"/>
<polygon points="2000.6,987.2 2009.8,1002.5 1991.5,1002.5" fill="#0773c2" opacity="0.78"/>
<polygon points="2126.6,1155.0 2135.8,1170.3 2117.4,1170.3" fill="#0773c2" opacity="0.78"/>
<rect x="1932.0" y="727.8" width="235.6" height="94.9" fill="#ffffff" stroke="#231f20" stroke-width="1.4"/>
<line x1="1941.6" y1="748.5" x2="1980.9" y2="748.5" stroke="#d2353a" stroke-width="4.5" opacity="0.78"/>
<circle cx="1961.2" cy="748.5" r="8.3" fill="#d2353a" opacity="0.78"/>
<text x="1988.0" y="756.0" font-size="27" fill="#231f20" textLength="150.7" lengthAdjust="spacingAndGlyphs">5 nm FinFET</text>
<line x1="1941.6" y1="776.6" x2="1980.9" y2="776.6" stroke="#a056ae" stroke-width="4.5" opacity="0.78"/>
<polygon points="1961.2,767.4 1970.5,776.6 1961.2,785.8 1952.0,776.6" fill="#a056ae" opacity="0.78"/>
<text x="1988.0" y="785.0" font-size="27" fill="#231f20" textLength="162.1" lengthAdjust="spacingAndGlyphs">22 nm FDSOI</text>
<line x1="1941.6" y1="805.0" x2="1980.9" y2="805.0" stroke="#0773c2" stroke-width="4.5" opacity="0.78"/>
<polygon points="1961.2,796.3 1970.4,811.6 1952.1,811.6" fill="#0773c2" opacity="0.78"/>
<text x="1988.0" y="812.7" font-size="27" fill="#231f20" textLength="170.5" lengthAdjust="spacingAndGlyphs">55 nm bulk Si</text>
<text x="1893.6" y="1243.6" font-size="27" fill="#231f20" text-anchor="middle" textLength="198.1" lengthAdjust="spacingAndGlyphs">Temperature (K)</text>
<text x="1530.8" y="950.5" font-size="27" fill="#231f20" text-anchor="middle" textLength="87.3" lengthAdjust="spacingAndGlyphs" transform="rotate(-90 1530.8 950.5)">Δ<tspan font-style="italic">V</tspan><tspan font-size="19" dy="8.0" font-style="normal">th</tspan><tspan dy="-8.0">(V)</tspan></text>
<text x="1509.5" y="708.7" font-size="39" font-weight="bold" fill="#231f20" stroke="#231f20" stroke-width="1.3" stroke-linejoin="round" textLength="25.5" lengthAdjust="spacingAndGlyphs">d</text>
<line x1="103.2" y1="1361.0" x2="103.2" y2="1801.7" stroke="#231f20" stroke-width="1.4" />
<line x1="103.2" y1="1801.7" x2="650.2" y2="1801.7" stroke="#231f20" stroke-width="1.4" />
<line x1="103.2" y1="1801.7" x2="103.2" y2="1812.1" stroke="#231f20" stroke-width="1.4" />
<text x="102.9" y="1836.3" font-size="26" fill="#454545" text-anchor="middle" textLength="39.1" lengthAdjust="spacingAndGlyphs">−1.5</text>
<line x1="194.2" y1="1801.7" x2="194.2" y2="1812.1" stroke="#231f20" stroke-width="1.4" />
<text x="193.9" y="1836.3" font-size="26" fill="#454545" text-anchor="middle" textLength="41.3" lengthAdjust="spacingAndGlyphs">−1.0</text>
<line x1="285.3" y1="1801.7" x2="285.3" y2="1812.1" stroke="#231f20" stroke-width="1.4" />
<text x="285.0" y="1836.3" font-size="26" fill="#454545" text-anchor="middle" textLength="45.8" lengthAdjust="spacingAndGlyphs">−0.5</text>
<line x1="376.3" y1="1801.7" x2="376.3" y2="1812.1" stroke="#231f20" stroke-width="1.4" />
<text x="376.0" y="1836.3" font-size="26" fill="#454545" text-anchor="middle" textLength="36.0" lengthAdjust="spacingAndGlyphs">0.0</text>
<line x1="467.4" y1="1801.7" x2="467.4" y2="1812.1" stroke="#231f20" stroke-width="1.4" />
<text x="467.1" y="1836.3" font-size="26" fill="#454545" text-anchor="middle" textLength="33.8" lengthAdjust="spacingAndGlyphs">0.5</text>
<line x1="558.5" y1="1801.7" x2="558.5" y2="1812.1" stroke="#231f20" stroke-width="1.4" />
<text x="558.2" y="1836.3" font-size="26" fill="#454545" text-anchor="middle" textLength="29.3" lengthAdjust="spacingAndGlyphs">1.0</text>
<line x1="649.5" y1="1801.7" x2="649.5" y2="1812.1" stroke="#231f20" stroke-width="1.4" />
<text x="649.2" y="1836.3" font-size="26" fill="#454545" text-anchor="middle" textLength="27.1" lengthAdjust="spacingAndGlyphs">1.5</text>
<line x1="148.7" y1="1801.7" x2="148.7" y2="1808.0" stroke="#231f20" stroke-width="1.4" />
<line x1="239.8" y1="1801.7" x2="239.8" y2="1808.0" stroke="#231f20" stroke-width="1.4" />
<line x1="330.8" y1="1801.7" x2="330.8" y2="1808.0" stroke="#231f20" stroke-width="1.4" />
<line x1="421.9" y1="1801.7" x2="421.9" y2="1808.0" stroke="#231f20" stroke-width="1.4" />
<line x1="512.9" y1="1801.7" x2="512.9" y2="1808.0" stroke="#231f20" stroke-width="1.4" />
<line x1="604.0" y1="1801.7" x2="604.0" y2="1808.0" stroke="#231f20" stroke-width="1.4" />
<line x1="92.4" y1="1361.7" x2="103.2" y2="1361.7" stroke="#231f20" stroke-width="1.4" />
<line x1="92.4" y1="1405.7" x2="103.2" y2="1405.7" stroke="#231f20" stroke-width="1.4" />
<line x1="92.4" y1="1449.7" x2="103.2" y2="1449.7" stroke="#231f20" stroke-width="1.4" />
<line x1="92.4" y1="1493.7" x2="103.2" y2="1493.7" stroke="#231f20" stroke-width="1.4" />
<line x1="92.4" y1="1537.7" x2="103.2" y2="1537.7" stroke="#231f20" stroke-width="1.4" />
<line x1="92.4" y1="1581.7" x2="103.2" y2="1581.7" stroke="#231f20" stroke-width="1.4" />
<line x1="92.4" y1="1625.7" x2="103.2" y2="1625.7" stroke="#231f20" stroke-width="1.4" />
<line x1="92.4" y1="1669.7" x2="103.2" y2="1669.7" stroke="#231f20" stroke-width="1.4" />
<line x1="92.4" y1="1713.7" x2="103.2" y2="1713.7" stroke="#231f20" stroke-width="1.4" />
<line x1="92.4" y1="1757.7" x2="103.2" y2="1757.7" stroke="#231f20" stroke-width="1.4" />
<line x1="92.4" y1="1801.7" x2="103.2" y2="1801.7" stroke="#231f20" stroke-width="1.4" />
<line x1="96.6" y1="1392.5" x2="103.2" y2="1392.5" stroke="#231f20" stroke-width="1.4" />
<line x1="96.6" y1="1384.7" x2="103.2" y2="1384.7" stroke="#231f20" stroke-width="1.4" />
<line x1="96.6" y1="1379.2" x2="103.2" y2="1379.2" stroke="#231f20" stroke-width="1.4" />
<line x1="96.6" y1="1374.9" x2="103.2" y2="1374.9" stroke="#231f20" stroke-width="1.4" />
<line x1="96.6" y1="1371.5" x2="103.2" y2="1371.5" stroke="#231f20" stroke-width="1.4" />
<line x1="96.6" y1="1368.5" x2="103.2" y2="1368.5" stroke="#231f20" stroke-width="1.4" />
<line x1="96.6" y1="1366.0" x2="103.2" y2="1366.0" stroke="#231f20" stroke-width="1.4" />
<line x1="96.6" y1="1363.7" x2="103.2" y2="1363.7" stroke="#231f20" stroke-width="1.4" />
<line x1="96.6" y1="1436.5" x2="103.2" y2="1436.5" stroke="#231f20" stroke-width="1.4" />
<line x1="96.6" y1="1428.7" x2="103.2" y2="1428.7" stroke="#231f20" stroke-width="1.4" />
<line x1="96.6" y1="1423.2" x2="103.2" y2="1423.2" stroke="#231f20" stroke-width="1.4" />
<line x1="96.6" y1="1418.9" x2="103.2" y2="1418.9" stroke="#231f20" stroke-width="1.4" />
<line x1="96.6" y1="1415.5" x2="103.2" y2="1415.5" stroke="#231f20" stroke-width="1.4" />
<line x1="96.6" y1="1412.5" x2="103.2" y2="1412.5" stroke="#231f20" stroke-width="1.4" />
<line x1="96.6" y1="1410.0" x2="103.2" y2="1410.0" stroke="#231f20" stroke-width="1.4" />
<line x1="96.6" y1="1407.7" x2="103.2" y2="1407.7" stroke="#231f20" stroke-width="1.4" />
<line x1="96.6" y1="1480.5" x2="103.2" y2="1480.5" stroke="#231f20" stroke-width="1.4" />
<line x1="96.6" y1="1472.7" x2="103.2" y2="1472.7" stroke="#231f20" stroke-width="1.4" />
<line x1="96.6" y1="1467.2" x2="103.2" y2="1467.2" stroke="#231f20" stroke-width="1.4" />
<line x1="96.6" y1="1462.9" x2="103.2" y2="1462.9" stroke="#231f20" stroke-width="1.4" />
<line x1="96.6" y1="1459.5" x2="103.2" y2="1459.5" stroke="#231f20" stroke-width="1.4" />
<line x1="96.6" y1="1456.5" x2="103.2" y2="1456.5" stroke="#231f20" stroke-width="1.4" />
<line x1="96.6" y1="1454.0" x2="103.2" y2="1454.0" stroke="#231f20" stroke-width="1.4" />
<line x1="96.6" y1="1451.7" x2="103.2" y2="1451.7" stroke="#231f20" stroke-width="1.4" />
<line x1="96.6" y1="1524.5" x2="103.2" y2="1524.5" stroke="#231f20" stroke-width="1.4" />
<line x1="96.6" y1="1516.7" x2="103.2" y2="1516.7" stroke="#231f20" stroke-width="1.4" />
<line x1="96.6" y1="1511.2" x2="103.2" y2="1511.2" stroke="#231f20" stroke-width="1.4" />
<line x1="96.6" y1="1506.9" x2="103.2" y2="1506.9" stroke="#231f20" stroke-width="1.4" />
<line x1="96.6" y1="1503.5" x2="103.2" y2="1503.5" stroke="#231f20" stroke-width="1.4" />
<line x1="96.6" y1="1500.5" x2="103.2" y2="1500.5" stroke="#231f20" stroke-width="1.4" />
<line x1="96.6" y1="1498.0" x2="103.2" y2="1498.0" stroke="#231f20" stroke-width="1.4" />
<line x1="96.6" y1="1495.7" x2="103.2" y2="1495.7" stroke="#231f20" stroke-width="1.4" />
<line x1="96.6" y1="1568.5" x2="103.2" y2="1568.5" stroke="#231f20" stroke-width="1.4" />
<line x1="96.6" y1="1560.7" x2="103.2" y2="1560.7" stroke="#231f20" stroke-width="1.4" />
<line x1="96.6" y1="1555.2" x2="103.2" y2="1555.2" stroke="#231f20" stroke-width="1.4" />
<line x1="96.6" y1="1550.9" x2="103.2" y2="1550.9" stroke="#231f20" stroke-width="1.4" />
<line x1="96.6" y1="1547.5" x2="103.2" y2="1547.5" stroke="#231f20" stroke-width="1.4" />
<line x1="96.6" y1="1544.5" x2="103.2" y2="1544.5" stroke="#231f20" stroke-width="1.4" />
<line x1="96.6" y1="1542.0" x2="103.2" y2="1542.0" stroke="#231f20" stroke-width="1.4" />
<line x1="96.6" y1="1539.7" x2="103.2" y2="1539.7" stroke="#231f20" stroke-width="1.4" />
<line x1="96.6" y1="1612.5" x2="103.2" y2="1612.5" stroke="#231f20" stroke-width="1.4" />
<line x1="96.6" y1="1604.7" x2="103.2" y2="1604.7" stroke="#231f20" stroke-width="1.4" />
<line x1="96.6" y1="1599.2" x2="103.2" y2="1599.2" stroke="#231f20" stroke-width="1.4" />
<line x1="96.6" y1="1594.9" x2="103.2" y2="1594.9" stroke="#231f20" stroke-width="1.4" />
<line x1="96.6" y1="1591.5" x2="103.2" y2="1591.5" stroke="#231f20" stroke-width="1.4" />
<line x1="96.6" y1="1588.5" x2="103.2" y2="1588.5" stroke="#231f20" stroke-width="1.4" />
<line x1="96.6" y1="1586.0" x2="103.2" y2="1586.0" stroke="#231f20" stroke-width="1.4" />
<line x1="96.6" y1="1583.7" x2="103.2" y2="1583.7" stroke="#231f20" stroke-width="1.4" />
<line x1="96.6" y1="1656.5" x2="103.2" y2="1656.5" stroke="#231f20" stroke-width="1.4" />
<line x1="96.6" y1="1648.7" x2="103.2" y2="1648.7" stroke="#231f20" stroke-width="1.4" />
<line x1="96.6" y1="1643.2" x2="103.2" y2="1643.2" stroke="#231f20" stroke-width="1.4" />
<line x1="96.6" y1="1638.9" x2="103.2" y2="1638.9" stroke="#231f20" stroke-width="1.4" />
<line x1="96.6" y1="1635.5" x2="103.2" y2="1635.5" stroke="#231f20" stroke-width="1.4" />
<line x1="96.6" y1="1632.5" x2="103.2" y2="1632.5" stroke="#231f20" stroke-width="1.4" />
<line x1="96.6" y1="1630.0" x2="103.2" y2="1630.0" stroke="#231f20" stroke-width="1.4" />
<line x1="96.6" y1="1627.7" x2="103.2" y2="1627.7" stroke="#231f20" stroke-width="1.4" />
<line x1="96.6" y1="1700.5" x2="103.2" y2="1700.5" stroke="#231f20" stroke-width="1.4" />
<line x1="96.6" y1="1692.7" x2="103.2" y2="1692.7" stroke="#231f20" stroke-width="1.4" />
<line x1="96.6" y1="1687.2" x2="103.2" y2="1687.2" stroke="#231f20" stroke-width="1.4" />
<line x1="96.6" y1="1682.9" x2="103.2" y2="1682.9" stroke="#231f20" stroke-width="1.4" />
<line x1="96.6" y1="1679.5" x2="103.2" y2="1679.5" stroke="#231f20" stroke-width="1.4" />
<line x1="96.6" y1="1676.5" x2="103.2" y2="1676.5" stroke="#231f20" stroke-width="1.4" />
<line x1="96.6" y1="1674.0" x2="103.2" y2="1674.0" stroke="#231f20" stroke-width="1.4" />
<line x1="96.6" y1="1671.7" x2="103.2" y2="1671.7" stroke="#231f20" stroke-width="1.4" />
<line x1="96.6" y1="1744.5" x2="103.2" y2="1744.5" stroke="#231f20" stroke-width="1.4" />
<line x1="96.6" y1="1736.7" x2="103.2" y2="1736.7" stroke="#231f20" stroke-width="1.4" />
<line x1="96.6" y1="1731.2" x2="103.2" y2="1731.2" stroke="#231f20" stroke-width="1.4" />
<line x1="96.6" y1="1726.9" x2="103.2" y2="1726.9" stroke="#231f20" stroke-width="1.4" />
<line x1="96.6" y1="1723.5" x2="103.2" y2="1723.5" stroke="#231f20" stroke-width="1.4" />
<line x1="96.6" y1="1720.5" x2="103.2" y2="1720.5" stroke="#231f20" stroke-width="1.4" />
<line x1="96.6" y1="1718.0" x2="103.2" y2="1718.0" stroke="#231f20" stroke-width="1.4" />
<line x1="96.6" y1="1715.7" x2="103.2" y2="1715.7" stroke="#231f20" stroke-width="1.4" />
<line x1="96.6" y1="1788.5" x2="103.2" y2="1788.5" stroke="#231f20" stroke-width="1.4" />
<line x1="96.6" y1="1780.7" x2="103.2" y2="1780.7" stroke="#231f20" stroke-width="1.4" />
<line x1="96.6" y1="1775.2" x2="103.2" y2="1775.2" stroke="#231f20" stroke-width="1.4" />
<line x1="96.6" y1="1770.9" x2="103.2" y2="1770.9" stroke="#231f20" stroke-width="1.4" />
<line x1="96.6" y1="1767.5" x2="103.2" y2="1767.5" stroke="#231f20" stroke-width="1.4" />
<line x1="96.6" y1="1764.5" x2="103.2" y2="1764.5" stroke="#231f20" stroke-width="1.4" />
<line x1="96.6" y1="1762.0" x2="103.2" y2="1762.0" stroke="#231f20" stroke-width="1.4" />
<line x1="96.6" y1="1759.7" x2="103.2" y2="1759.7" stroke="#231f20" stroke-width="1.4" />
<text x="87.6" y="1372.0" font-size="26" fill="#454545" text-anchor="end" textLength="43.1" lengthAdjust="spacingAndGlyphs">10<tspan font-size="16.5" dy="-8.2">−4</tspan></text>
<text x="87.6" y="1416.0" font-size="26" fill="#454545" text-anchor="end" textLength="42.7" lengthAdjust="spacingAndGlyphs">10<tspan font-size="16.5" dy="-8.2">−5</tspan></text>
<text x="87.6" y="1460.0" font-size="26" fill="#454545" text-anchor="end" textLength="43.1" lengthAdjust="spacingAndGlyphs">10<tspan font-size="16.5" dy="-8.2">−6</tspan></text>
<text x="87.6" y="1504.0" font-size="26" fill="#454545" text-anchor="end" textLength="41.8" lengthAdjust="spacingAndGlyphs">10<tspan font-size="16.5" dy="-8.2">−7</tspan></text>
<text x="87.6" y="1548.0" font-size="26" fill="#454545" text-anchor="end" textLength="43.1" lengthAdjust="spacingAndGlyphs">10<tspan font-size="16.5" dy="-8.2">−8</tspan></text>
<text x="87.6" y="1592.0" font-size="26" fill="#454545" text-anchor="end" textLength="43.1" lengthAdjust="spacingAndGlyphs">10<tspan font-size="16.5" dy="-8.2">−9</tspan></text>
<text x="87.6" y="1636.0" font-size="26" fill="#454545" text-anchor="end" textLength="50.0" lengthAdjust="spacingAndGlyphs">10<tspan font-size="16.5" dy="-8.2">−10</tspan></text>
<text x="87.6" y="1680.0" font-size="26" fill="#454545" text-anchor="end" textLength="45.7" lengthAdjust="spacingAndGlyphs">10<tspan font-size="16.5" dy="-8.2">−11</tspan></text>
<text x="87.6" y="1724.0" font-size="26" fill="#454545" text-anchor="end" textLength="48.3" lengthAdjust="spacingAndGlyphs">10<tspan font-size="16.5" dy="-8.2">−12</tspan></text>
<text x="87.6" y="1768.0" font-size="26" fill="#454545" text-anchor="end" textLength="48.4" lengthAdjust="spacingAndGlyphs">10<tspan font-size="16.5" dy="-8.2">−13</tspan></text>
<text x="87.6" y="1812.0" font-size="26" fill="#454545" text-anchor="end" textLength="49.0" lengthAdjust="spacingAndGlyphs">10<tspan font-size="16.5" dy="-8.2">−14</tspan></text>
<path d="M123.2,1376.9C130.5,1377.0 154.3,1377.1 167.2,1377.6C180.2,1378.0 189.6,1378.7 200.8,1379.6C212.0,1380.4 224.6,1381.6 234.5,1382.6C244.3,1383.6 251.3,1384.4 259.7,1385.8C268.1,1387.2 277.9,1389.4 284.9,1391.2C291.9,1392.9 296.6,1394.4 301.7,1396.2C306.7,1398.0 310.9,1399.9 315.1,1402.1C319.3,1404.3 323.0,1406.9 326.9,1409.7C330.8,1412.5 334.7,1415.4 338.7,1418.9C342.6,1422.4 346.5,1426.6 350.4,1430.7C354.3,1434.7 358.0,1438.0 362.2,1443.3C366.4,1448.6 370.9,1455.5 375.6,1462.6C380.4,1469.7 386.3,1478.9 390.8,1486.1C395.2,1493.4 398.9,1499.9 402.5,1506.3C406.2,1512.7 409.6,1519.2 412.6,1524.8C415.6,1530.4 417.2,1533.3 420.8,1540.0C424.4,1546.7 429.4,1556.5 434.2,1565.2C439.0,1573.9 444.6,1582.9 449.3,1592.1C454.1,1601.3 458.3,1611.1 462.8,1620.7C467.3,1630.2 471.7,1639.7 476.2,1649.2C480.7,1658.8 486.0,1670.5 489.7,1677.8C493.3,1685.1 495.8,1688.7 498.1,1692.9C500.3,1697.1 501.6,1699.8 503.1,1703.0C504.6,1706.2 506.6,1710.7 507.3,1712.3" fill="none" stroke="#dc6266" stroke-width="3.4" stroke-linejoin="round" opacity="1"/>
<polyline points="507.3,1712.3 510.7,1724.9 514.7,1742.0 521.8,1737.8 529.4,1728.9 536.6,1762.5 543.9,1796.1 547.1,1775.1 549.2,1752.0 551.3,1728.9 558.6,1721.2 566.1,1723.7 572.9,1713.1 580.4,1701.3 587.1,1698.0 595.2,1695.5 602.3,1687.9 609.0,1679.8 616.6,1674.5 625.3,1670.3" fill="none" stroke="#dc6266" stroke-width="3.4" stroke-linejoin="round" opacity="1" />
<path d="M123.2,1376.9C127.7,1376.9 141.7,1376.9 150.4,1377.2C159.2,1377.5 167.2,1378.1 175.6,1378.6C184.0,1379.1 192.4,1379.5 200.8,1380.3C209.2,1381.0 217.6,1381.8 226.1,1383.1C234.5,1384.4 244.3,1386.3 251.3,1387.8C258.3,1389.3 262.5,1390.2 268.1,1392.0C273.7,1393.8 279.8,1396.4 284.9,1398.7C289.9,1401.1 294.1,1403.6 298.3,1406.3C302.5,1409.0 306.4,1411.6 310.1,1414.7C313.7,1417.8 317.1,1421.3 320.2,1424.8C323.2,1428.3 326.1,1431.9 328.6,1435.7C331.1,1439.5 333.1,1443.6 335.3,1447.5C337.5,1451.4 339.8,1455.3 342.0,1459.2C344.3,1463.2 346.8,1467.1 348.7,1471.0C350.7,1474.9 352.1,1478.9 353.8,1482.8C355.5,1486.7 357.3,1490.3 358.8,1494.5C360.4,1498.7 361.6,1503.5 363.0,1508.0C364.4,1512.5 366.0,1517.2 367.2,1521.4C368.5,1525.6 369.6,1530.1 370.6,1533.2C371.5,1536.3 371.8,1537.2 372.9,1540.0C373.9,1542.8 375.2,1545.9 377.1,1550.1C378.9,1554.3 382.0,1560.4 383.8,1565.2C385.6,1570.0 386.7,1573.9 388.0,1578.7C389.2,1583.4 390.4,1588.7 391.3,1593.8C392.3,1598.8 393.0,1603.9 393.9,1608.9C394.7,1613.9 395.5,1619.3 396.4,1624.0C397.2,1628.8 397.9,1633.0 398.9,1637.5C399.9,1642.0 401.0,1646.4 402.3,1650.9C403.5,1655.4 405.1,1660.2 406.5,1664.4C407.8,1668.6 409.1,1672.2 410.3,1676.1C411.6,1680.1 413.0,1684.0 414.0,1687.9C415.1,1691.8 415.8,1695.2 416.6,1699.7C417.3,1704.1 418.4,1712.3 418.7,1714.8" fill="none" stroke="#c79ad0" stroke-width="3.4" stroke-linejoin="round" opacity="1"/>
<polyline points="418.7,1714.8 420.5,1728.9 424.2,1731.5 425.7,1744.7 427.5,1758.8 429.4,1749.9 431.0,1741.0 434.7,1741.3 437.3,1755.2 439.4,1754.6 441.8,1736.1 443.6,1756.2 445.5,1778.8 447.3,1758.3 449.2,1737.8 451.5,1740.5 453.0,1746.8 454.6,1744.7 456.7,1741.5 459.9,1736.8 462.0,1762.5 463.8,1782.0 465.7,1760.4 467.5,1735.7" fill="none" stroke="#c79ad0" stroke-width="3.4" stroke-linejoin="round" opacity="1" />
<path d="M123.2,1376.9C126.3,1377.0 134.7,1377.3 142.0,1377.7C149.4,1378.2 158.8,1379.0 167.2,1379.7C175.6,1380.4 184.0,1381.1 192.4,1381.9C200.8,1382.8 209.2,1383.5 217.6,1384.8C226.1,1386.1 235.9,1388.0 242.9,1389.5C249.9,1391.0 254.1,1392.2 259.7,1394.0C265.3,1395.9 271.4,1398.1 276.5,1400.4C281.5,1402.7 286.0,1405.3 289.9,1408.0C293.8,1410.6 296.9,1413.3 300.0,1416.4C303.1,1419.5 305.9,1423.0 308.4,1426.5C310.9,1430.0 312.9,1433.6 315.1,1437.4C317.4,1441.2 319.6,1445.5 321.8,1449.2C324.1,1452.8 326.6,1456.0 328.6,1459.2C330.5,1462.5 332.2,1465.4 333.6,1468.5C335.0,1471.6 335.9,1474.6 337.0,1477.7C338.1,1480.8 338.9,1483.5 340.3,1487.0C341.7,1490.5 343.7,1495.1 345.4,1498.7C347.1,1502.4 348.9,1505.9 350.4,1508.8C352.0,1511.7 353.1,1514.3 354.6,1516.1C356.2,1517.8 358.8,1518.9 359.7,1519.4" fill="none" stroke="#3f93d1" stroke-width="3.4" stroke-linejoin="round" opacity="1"/>
<polyline points="359.7,1519.4 361.8,1520.6 363.9,1528.2 366.4,1539.9 369.5,1556.8 372.9,1575.3 374.5,1592.1 376.7,1610.6 379.1,1629.1 381.3,1645.9 383.4,1664.4 386.8,1674.5 392.2,1670.3 397.2,1665.2 401.9,1663.0 404.8,1670.3 409.0,1682.9 412.4,1694.6 414.9,1711.4 417.4,1726.6 420.5,1738.4 422.1,1754.1 423.6,1781.4 425.7,1759.4 427.3,1739.4 430.5,1743.6 434.7,1755.7 436.2,1745.7 438.7,1737.8 440.4,1749.9 442.0,1759.9 444.1,1748.9 445.7,1741.0 448.8,1741.0 450.9,1752.0 453.0,1765.1 454.6,1749.9 456.5,1736.8 458.3,1745.7 460.1,1754.6 463.0,1747.8 468.3,1737.8 469.9,1757.3 471.2,1789.8 473.0,1764.6 474.6,1738.4 478.3,1746.8 482.1,1749.7 484.0,1744.1 485.9,1737.8 487.7,1759.4 489.3,1777.2 491.2,1756.2 493.0,1738.4 496.6,1744.7 500.3,1757.3 502.4,1746.8 504.2,1736.3" fill="none" stroke="#3f93d1" stroke-width="3.4" stroke-linejoin="round" opacity="1" />
<rect x="505.8" y="1360.2" width="140.8" height="95.0" fill="#ffffff" stroke="#231f20" stroke-width="1.4"/>
<line x1="515.2" y1="1381.0" x2="554.9" y2="1381.0" stroke="#dc6266" stroke-width="4"/>
<text x="562.0" y="1387.6" font-size="27" fill="#231f20" textLength="75.0" lengthAdjust="spacingAndGlyphs">300 K</text>
<line x1="515.2" y1="1409.3" x2="554.9" y2="1409.3" stroke="#c79ad0" stroke-width="4"/>
<text x="562.0" y="1416.2" font-size="27" fill="#231f20" textLength="51.5" lengthAdjust="spacingAndGlyphs">77 K</text>
<line x1="515.2" y1="1435.9" x2="554.9" y2="1435.9" stroke="#3f93d1" stroke-width="4"/>
<text x="562.0" y="1443.9" font-size="27" fill="#231f20" textLength="48.0" lengthAdjust="spacingAndGlyphs">12 K</text>
<text x="375.5" y="1876.8" font-size="27" fill="#231f20" text-anchor="middle" textLength="71.8" lengthAdjust="spacingAndGlyphs"><tspan font-style="italic">V</tspan><tspan font-size="19" dy="8.0" font-style="normal">G</tspan><tspan dy="-8.0"> (V)</tspan></text>
<text x="27.4" y="1579.5" font-size="27" fill="#231f20" text-anchor="middle" textLength="60.5" lengthAdjust="spacingAndGlyphs" transform="rotate(-90 27.4 1579.5)"><tspan font-style="italic">I</tspan><tspan font-size="19" dy="8.0" font-style="normal">d</tspan><tspan dy="-8.0"> (A)</tspan></text>
<text x="0.0" y="1345.2" font-size="39" font-weight="bold" fill="#231f20" stroke="#231f20" stroke-width="1.3" stroke-linejoin="round" textLength="23.2" lengthAdjust="spacingAndGlyphs">e</text>
<line x1="863.2" y1="1360.6" x2="863.2" y2="1801.7" stroke="#231f20" stroke-width="1.4" />
<line x1="863.2" y1="1801.7" x2="1411.4" y2="1801.7" stroke="#231f20" stroke-width="1.4" />
<line x1="863.2" y1="1801.7" x2="863.2" y2="1812.1" stroke="#231f20" stroke-width="1.4" />
<text x="862.9" y="1836.3" font-size="26" fill="#454545" text-anchor="middle" textLength="36.0" lengthAdjust="spacingAndGlyphs">0.0</text>
<line x1="972.7" y1="1801.7" x2="972.7" y2="1812.1" stroke="#231f20" stroke-width="1.4" />
<text x="972.4" y="1836.3" font-size="26" fill="#454545" text-anchor="middle" textLength="29.3" lengthAdjust="spacingAndGlyphs">0.1</text>
<line x1="1082.2" y1="1801.7" x2="1082.2" y2="1812.1" stroke="#231f20" stroke-width="1.4" />
<text x="1081.9" y="1836.3" font-size="26" fill="#454545" text-anchor="middle" textLength="33.3" lengthAdjust="spacingAndGlyphs">0.2</text>
<line x1="1191.7" y1="1801.7" x2="1191.7" y2="1812.1" stroke="#231f20" stroke-width="1.4" />
<text x="1191.4" y="1836.3" font-size="26" fill="#454545" text-anchor="middle" textLength="33.5" lengthAdjust="spacingAndGlyphs">0.3</text>
<line x1="1301.2" y1="1801.7" x2="1301.2" y2="1812.1" stroke="#231f20" stroke-width="1.4" />
<text x="1300.9" y="1836.3" font-size="26" fill="#454545" text-anchor="middle" textLength="34.5" lengthAdjust="spacingAndGlyphs">0.4</text>
<line x1="1410.7" y1="1801.7" x2="1410.7" y2="1812.1" stroke="#231f20" stroke-width="1.4" />
<text x="1410.4" y="1836.3" font-size="26" fill="#454545" text-anchor="middle" textLength="33.8" lengthAdjust="spacingAndGlyphs">0.5</text>
<line x1="852.4" y1="1801.7" x2="863.2" y2="1801.7" stroke="#231f20" stroke-width="1.4" />
<text x="844.9" y="1812.6" font-size="26" fill="#454545" text-anchor="end" textLength="16.0" lengthAdjust="spacingAndGlyphs">0</text>
<line x1="852.4" y1="1746.7" x2="863.2" y2="1746.7" stroke="#231f20" stroke-width="1.4" />
<text x="844.9" y="1757.0" font-size="26" fill="#454545" text-anchor="end" textLength="29.3" lengthAdjust="spacingAndGlyphs">20</text>
<line x1="852.4" y1="1691.6" x2="863.2" y2="1691.6" stroke="#231f20" stroke-width="1.4" />
<text x="844.9" y="1701.5" font-size="26" fill="#454545" text-anchor="end" textLength="30.5" lengthAdjust="spacingAndGlyphs">40</text>
<line x1="852.4" y1="1636.5" x2="863.2" y2="1636.5" stroke="#231f20" stroke-width="1.4" />
<text x="844.9" y="1645.9" font-size="26" fill="#454545" text-anchor="end" textLength="30.5" lengthAdjust="spacingAndGlyphs">60</text>
<line x1="852.4" y1="1581.5" x2="863.2" y2="1581.5" stroke="#231f20" stroke-width="1.4" />
<text x="844.9" y="1590.3" font-size="26" fill="#454545" text-anchor="end" textLength="30.5" lengthAdjust="spacingAndGlyphs">80</text>
<line x1="852.4" y1="1526.5" x2="863.2" y2="1526.5" stroke="#231f20" stroke-width="1.4" />
<text x="844.9" y="1534.8" font-size="26" fill="#454545" text-anchor="end" textLength="41.3" lengthAdjust="spacingAndGlyphs">100</text>
<line x1="852.4" y1="1471.4" x2="863.2" y2="1471.4" stroke="#231f20" stroke-width="1.4" />
<text x="844.9" y="1479.2" font-size="26" fill="#454545" text-anchor="end" textLength="38.6" lengthAdjust="spacingAndGlyphs">120</text>
<line x1="852.4" y1="1416.3" x2="863.2" y2="1416.3" stroke="#231f20" stroke-width="1.4" />
<text x="844.9" y="1423.7" font-size="26" fill="#454545" text-anchor="end" textLength="39.8" lengthAdjust="spacingAndGlyphs">140</text>
<line x1="852.4" y1="1361.3" x2="863.2" y2="1361.3" stroke="#231f20" stroke-width="1.4" />
<text x="844.9" y="1368.1" font-size="26" fill="#454545" text-anchor="end" textLength="39.8" lengthAdjust="spacingAndGlyphs">160</text>
<clipPath id="cf"><rect x="849.2" y="1357.3" width="561.7" height="458.4000000000001"/></clipPath><g clip-path="url(#cf)">
<polyline points="879.0,1800.5 898.0,1798.0 918.7,1797.1 942.5,1794.6 967.2,1792.6 992.4,1790.4 1018.7,1787.9 1046.4,1786.7 1073.6,1784.9 1100.8,1783.4 1159.7,1779.3 1249.2,1773.1 1313.9,1768.6 1381.5,1764.4 1411.0,1762.7" fill="none" stroke="#d2353a" stroke-width="4.0" stroke-linejoin="round" opacity="0.78" />
<polygon points="879.0,1791.3 888.2,1800.5 879.0,1809.7 869.8,1800.5" fill="#d2353a" opacity="0.78"/>
<polygon points="898.0,1788.8 907.2,1798.0 898.0,1807.2 888.8,1798.0" fill="#d2353a" opacity="0.78"/>
<polygon points="918.7,1787.9 927.9,1797.1 918.7,1806.3 909.5,1797.1" fill="#d2353a" opacity="0.78"/>
<polygon points="942.5,1785.4 951.7,1794.6 942.5,1803.8 933.3,1794.6" fill="#d2353a" opacity="0.78"/>
<polygon points="967.2,1783.4 976.4,1792.6 967.2,1801.8 958.0,1792.6" fill="#d2353a" opacity="0.78"/>
<polygon points="992.4,1781.2 1001.6,1790.4 992.4,1799.6 983.2,1790.4" fill="#d2353a" opacity="0.78"/>
<polygon points="1018.7,1778.7 1027.9,1787.9 1018.7,1797.1 1009.5,1787.9" fill="#d2353a" opacity="0.78"/>
<polygon points="1046.4,1777.5 1055.6,1786.7 1046.4,1795.9 1037.2,1786.7" fill="#d2353a" opacity="0.78"/>
<polygon points="1073.6,1775.7 1082.8,1784.9 1073.6,1794.1 1064.4,1784.9" fill="#d2353a" opacity="0.78"/>
<polygon points="1100.8,1774.2 1110.0,1783.4 1100.8,1792.6 1091.6,1783.4" fill="#d2353a" opacity="0.78"/>
<polygon points="1159.7,1770.1 1168.9,1779.3 1159.7,1788.5 1150.5,1779.3" fill="#d2353a" opacity="0.78"/>
<polygon points="1249.2,1763.9 1258.4,1773.1 1249.2,1782.3 1240.0,1773.1" fill="#d2353a" opacity="0.78"/>
<polygon points="1313.9,1759.4 1323.1,1768.6 1313.9,1777.8 1304.7,1768.6" fill="#d2353a" opacity="0.78"/>
<polygon points="1381.5,1755.2 1390.7,1764.4 1381.5,1773.6 1372.3,1764.4" fill="#d2353a" opacity="0.78"/>
<polygon points="1411.0,1753.5 1420.2,1762.7 1411.0,1771.9 1401.8,1762.7" fill="#d2353a" opacity="0.78"/>
<polyline points="898.8,1790.4 950.9,1775.3 996.3,1761.8 1041.7,1746.7 1117.4,1725.5 1168.9,1705.0 1268.9,1676.5 1344.9,1654.6 1411.5,1633.4" fill="none" stroke="#d2353a" stroke-width="4.0" stroke-linejoin="round" opacity="0.78" />
<circle cx="898.8" cy="1790.4" r="8.3" fill="#d2353a" opacity="0.78"/>
<circle cx="950.9" cy="1775.3" r="8.3" fill="#d2353a" opacity="0.78"/>
<circle cx="996.3" cy="1761.8" r="8.3" fill="#d2353a" opacity="0.78"/>
<circle cx="1041.7" cy="1746.7" r="8.3" fill="#d2353a" opacity="0.78"/>
<circle cx="1117.4" cy="1725.5" r="8.3" fill="#d2353a" opacity="0.78"/>
<circle cx="1168.9" cy="1705.0" r="8.3" fill="#d2353a" opacity="0.78"/>
<circle cx="1268.9" cy="1676.5" r="8.3" fill="#d2353a" opacity="0.78"/>
<circle cx="1344.9" cy="1654.6" r="8.3" fill="#d2353a" opacity="0.78"/>
<polyline points="863.5,1801.0 876.5,1793.0 910.6,1768.6 972.8,1748.4 1057.6,1731.6 1162.2,1717.6 1217.6,1710.9 1276.5,1706.2 1335.3,1702.5 1404.5,1697.0 1411.5,1696.4" fill="none" stroke="#0773c2" stroke-width="4.0" stroke-linejoin="round" opacity="0.78" />
<polygon points="864.5,1791.8 873.6,1807.1 855.4,1807.1" fill="#0773c2" opacity="0.78"/>
<polygon points="876.5,1784.3 885.6,1799.6 867.4,1799.6" fill="#0773c2" opacity="0.78"/>
<polygon points="910.6,1759.9 919.8,1775.2 901.5,1775.2" fill="#0773c2" opacity="0.78"/>
<polygon points="972.8,1739.7 981.9,1755.0 963.6,1755.0" fill="#0773c2" opacity="0.78"/>
<polygon points="1057.6,1722.9 1066.8,1738.2 1048.4,1738.2" fill="#0773c2" opacity="0.78"/>
<polygon points="1162.2,1708.9 1171.4,1724.2 1153.0,1724.2" fill="#0773c2" opacity="0.78"/>
<polygon points="1404.5,1688.3 1413.7,1703.6 1395.3,1703.6" fill="#0773c2" opacity="0.78"/>
<polyline points="862.5,1788.2 867.7,1765.2 881.2,1746.2 900.2,1733.3 922.4,1722.0 947.6,1712.3 975.0,1704.7 1002.2,1698.8 1029.9,1692.9 1058.2,1689.1 1117.1,1681.5 1179.5,1675.1 1244.0,1670.3 1313.1,1664.7 1386.6,1658.8 1411.5,1657.9" fill="none" stroke="#0773c2" stroke-width="4.0" stroke-linejoin="round" opacity="0.78" />
<polygon points="862.5,1779.0 871.7,1788.2 862.5,1797.4 853.3,1788.2" fill="#0773c2" opacity="0.78"/>
<polygon points="867.7,1756.0 876.9,1765.2 867.7,1774.4 858.5,1765.2" fill="#0773c2" opacity="0.78"/>
<polygon points="881.2,1737.0 890.4,1746.2 881.2,1755.4 872.0,1746.2" fill="#0773c2" opacity="0.78"/>
<polygon points="900.2,1724.1 909.4,1733.3 900.2,1742.5 891.0,1733.3" fill="#0773c2" opacity="0.78"/>
<polygon points="922.4,1712.8 931.6,1722.0 922.4,1731.2 913.2,1722.0" fill="#0773c2" opacity="0.78"/>
<polygon points="947.6,1703.1 956.8,1712.3 947.6,1721.5 938.4,1712.3" fill="#0773c2" opacity="0.78"/>
<polygon points="975.0,1695.5 984.2,1704.7 975.0,1713.9 965.8,1704.7" fill="#0773c2" opacity="0.78"/>
<polygon points="1002.2,1689.6 1011.4,1698.8 1002.2,1708.0 993.0,1698.8" fill="#0773c2" opacity="0.78"/>
<polygon points="1029.9,1683.7 1039.1,1692.9 1029.9,1702.1 1020.7,1692.9" fill="#0773c2" opacity="0.78"/>
<polygon points="1058.2,1679.9 1067.4,1689.1 1058.2,1698.3 1049.0,1689.1" fill="#0773c2" opacity="0.78"/>
<polygon points="1117.1,1672.3 1126.3,1681.5 1117.1,1690.7 1107.9,1681.5" fill="#0773c2" opacity="0.78"/>
<polygon points="1179.5,1665.9 1188.7,1675.1 1179.5,1684.3 1170.3,1675.1" fill="#0773c2" opacity="0.78"/>
<polygon points="1244.0,1661.1 1253.2,1670.3 1244.0,1679.5 1234.8,1670.3" fill="#0773c2" opacity="0.78"/>
<polygon points="1313.1,1655.5 1322.3,1664.7 1313.1,1673.9 1303.9,1664.7" fill="#0773c2" opacity="0.78"/>
<polygon points="1386.6,1649.6 1395.8,1658.8 1386.6,1668.0 1377.4,1658.8" fill="#0773c2" opacity="0.78"/>
<polyline points="863.0,1800.0 887.6,1761.8 913.9,1735.8 932.4,1710.6 981.2,1656.9 1032.6,1607.1 1093.2,1558.5 1154.1,1512.1 1248.2,1453.2 1335.9,1400.3 1411.5,1362.4" fill="none" stroke="#0773c2" stroke-width="4.0" stroke-linejoin="round" opacity="0.78" />
<circle cx="863.0" cy="1800.0" r="8.3" fill="#0773c2" opacity="0.78"/>
<circle cx="887.6" cy="1761.8" r="8.3" fill="#0773c2" opacity="0.78"/>
<circle cx="913.9" cy="1735.8" r="8.3" fill="#0773c2" opacity="0.78"/>
<circle cx="932.4" cy="1710.6" r="8.3" fill="#0773c2" opacity="0.78"/>
<circle cx="981.2" cy="1656.9" r="8.3" fill="#0773c2" opacity="0.78"/>
<circle cx="1032.6" cy="1607.1" r="8.3" fill="#0773c2" opacity="0.78"/>
<circle cx="1093.2" cy="1558.5" r="8.3" fill="#0773c2" opacity="0.78"/>
<circle cx="1154.1" cy="1512.1" r="8.3" fill="#0773c2" opacity="0.78"/>
<circle cx="1248.2" cy="1453.2" r="8.3" fill="#0773c2" opacity="0.78"/>
<circle cx="1335.9" cy="1400.3" r="8.3" fill="#0773c2" opacity="0.78"/>
</g>
<rect x="887.4" y="1360.0" width="213.8" height="97.6" fill="#ffffff" stroke="#231f20" stroke-width="1.4"/>
<circle cx="906.5" cy="1380.3" r="8.3" fill="#b9c0d3" opacity="1"/>
<text x="925.0" y="1390.2" font-size="27" fill="#231f20" textLength="166.0" lengthAdjust="spacingAndGlyphs">50 nm FDSOI</text>
<polygon points="906.5,1399.3 915.7,1408.5 906.5,1417.7 897.3,1408.5" fill="#b9c0d3" opacity="1"/>
<text x="925.0" y="1418.9" font-size="27" fill="#231f20" textLength="143.0" lengthAdjust="spacingAndGlyphs">40 nm bulk</text>
<polygon points="906.5,1429.3 915.6,1444.6 897.4,1444.6" fill="#b9c0d3" opacity="1"/>
<text x="925.0" y="1447.5" font-size="27" fill="#231f20" textLength="141.0" lengthAdjust="spacingAndGlyphs">65 nm bulk</text>
<text x="1105.8" y="1615.0" font-size="27" fill="#231f20" textLength="61.0" lengthAdjust="spacingAndGlyphs">4.2 K</text>
<line x1="1154.1" y1="1519.4" x2="1154.1" y2="1590.6" stroke="#231f20" stroke-width="1.2" />
<line x1="1117.3" y1="1619.4" x2="1117.3" y2="1675.0" stroke="#231f20" stroke-width="1.2" />
<text x="1083.3" y="1763.5" font-size="27" fill="#231f20" textLength="75.0" lengthAdjust="spacingAndGlyphs">300 K</text>
<line x1="1117.5" y1="1734.5" x2="1117.5" y2="1742.9" stroke="#231f20" stroke-width="1.2" />
<line x1="1101.3" y1="1765.5" x2="1101.3" y2="1774.8" stroke="#231f20" stroke-width="1.2" />
<text x="1268.8" y="1745.9" font-size="27" fill="#231f20" textLength="61.0" lengthAdjust="spacingAndGlyphs">6.5 K</text>
<line x1="1276.5" y1="1712.9" x2="1276.5" y2="1723.5" stroke="#231f20" stroke-width="1.2" />
<text x="1135.0" y="1877.0" font-size="27" fill="#231f20" text-anchor="middle" textLength="426.6" lengthAdjust="spacingAndGlyphs">Normalized power, <tspan font-style="italic">P</tspan>/<tspan font-style="italic">W</tspan> (mW µm<tspan font-size="19" dy="-9.5" font-style="normal">−1</tspan><tspan dy="9.5">)</tspan></text>
<text x="775.3" y="1580.6" font-size="27" fill="#231f20" text-anchor="middle" textLength="329.7" lengthAdjust="spacingAndGlyphs" transform="rotate(-90 775.3 1580.6)">Raised temperature, <tspan font-style="italic">ΔT</tspan> (K)</text>
<text x="753.7" y="1345.2" font-size="39" font-weight="bold" fill="#231f20" stroke="#231f20" stroke-width="1.3" stroke-linejoin="round" textLength="13.9" lengthAdjust="spacingAndGlyphs">f</text>
<line x1="1622.7" y1="1360.1" x2="1622.7" y2="1801.7" stroke="#231f20" stroke-width="1.4" />
<line x1="1622.7" y1="1801.7" x2="2170.2" y2="1801.7" stroke="#231f20" stroke-width="1.4" />
<line x1="1622.7" y1="1801.7" x2="1622.7" y2="1812.1" stroke="#231f20" stroke-width="1.4" />
<text x="1622.4" y="1836.3" font-size="26" fill="#454545" text-anchor="middle" textLength="16.0" lengthAdjust="spacingAndGlyphs">0</text>
<line x1="1706.9" y1="1801.7" x2="1706.9" y2="1812.1" stroke="#231f20" stroke-width="1.4" />
<text x="1706.6" y="1836.3" font-size="26" fill="#454545" text-anchor="middle" textLength="29.8" lengthAdjust="spacingAndGlyphs">50</text>
<line x1="1791.0" y1="1801.7" x2="1791.0" y2="1812.1" stroke="#231f20" stroke-width="1.4" />
<text x="1790.7" y="1836.3" font-size="26" fill="#454545" text-anchor="middle" textLength="41.3" lengthAdjust="spacingAndGlyphs">100</text>
<line x1="1875.2" y1="1801.7" x2="1875.2" y2="1812.1" stroke="#231f20" stroke-width="1.4" />
<text x="1874.9" y="1836.3" font-size="26" fill="#454545" text-anchor="middle" textLength="39.1" lengthAdjust="spacingAndGlyphs">150</text>
<line x1="1959.4" y1="1801.7" x2="1959.4" y2="1812.1" stroke="#231f20" stroke-width="1.4" />
<text x="1959.1" y="1836.3" font-size="26" fill="#454545" text-anchor="middle" textLength="45.3" lengthAdjust="spacingAndGlyphs">200</text>
<line x1="2043.5" y1="1801.7" x2="2043.5" y2="1812.1" stroke="#231f20" stroke-width="1.4" />
<text x="2043.2" y="1836.3" font-size="26" fill="#454545" text-anchor="middle" textLength="43.1" lengthAdjust="spacingAndGlyphs">250</text>
<line x1="2127.7" y1="1801.7" x2="2127.7" y2="1812.1" stroke="#231f20" stroke-width="1.4" />
<text x="2127.4" y="1836.3" font-size="26" fill="#454545" text-anchor="middle" textLength="45.5" lengthAdjust="spacingAndGlyphs">300</text>
<line x1="1664.8" y1="1801.7" x2="1664.8" y2="1808.0" stroke="#231f20" stroke-width="1.4" />
<line x1="1749.0" y1="1801.7" x2="1749.0" y2="1808.0" stroke="#231f20" stroke-width="1.4" />
<line x1="1833.1" y1="1801.7" x2="1833.1" y2="1808.0" stroke="#231f20" stroke-width="1.4" />
<line x1="1917.3" y1="1801.7" x2="1917.3" y2="1808.0" stroke="#231f20" stroke-width="1.4" />
<line x1="2001.4" y1="1801.7" x2="2001.4" y2="1808.0" stroke="#231f20" stroke-width="1.4" />
<line x1="2085.6" y1="1801.7" x2="2085.6" y2="1808.0" stroke="#231f20" stroke-width="1.4" />
<line x1="2169.8" y1="1801.7" x2="2169.8" y2="1808.0" stroke="#231f20" stroke-width="1.4" />
<line x1="1611.9" y1="1801.7" x2="1622.7" y2="1801.7" stroke="#231f20" stroke-width="1.4" />
<line x1="1611.9" y1="1682.7" x2="1622.7" y2="1682.7" stroke="#231f20" stroke-width="1.4" />
<line x1="1611.9" y1="1563.7" x2="1622.7" y2="1563.7" stroke="#231f20" stroke-width="1.4" />
<line x1="1611.9" y1="1444.7" x2="1622.7" y2="1444.7" stroke="#231f20" stroke-width="1.4" />
<line x1="1611.9" y1="1360.8" x2="1622.7" y2="1360.8" stroke="#231f20" stroke-width="1.4" />
<line x1="1616.1" y1="1765.9" x2="1622.7" y2="1765.9" stroke="#231f20" stroke-width="1.4" />
<line x1="1616.1" y1="1744.9" x2="1622.7" y2="1744.9" stroke="#231f20" stroke-width="1.4" />
<line x1="1616.1" y1="1730.1" x2="1622.7" y2="1730.1" stroke="#231f20" stroke-width="1.4" />
<line x1="1616.1" y1="1718.5" x2="1622.7" y2="1718.5" stroke="#231f20" stroke-width="1.4" />
<line x1="1616.1" y1="1709.1" x2="1622.7" y2="1709.1" stroke="#231f20" stroke-width="1.4" />
<line x1="1616.1" y1="1701.1" x2="1622.7" y2="1701.1" stroke="#231f20" stroke-width="1.4" />
<line x1="1616.1" y1="1694.2" x2="1622.7" y2="1694.2" stroke="#231f20" stroke-width="1.4" />
<line x1="1616.1" y1="1688.1" x2="1622.7" y2="1688.1" stroke="#231f20" stroke-width="1.4" />
<line x1="1616.1" y1="1646.9" x2="1622.7" y2="1646.9" stroke="#231f20" stroke-width="1.4" />
<line x1="1616.1" y1="1625.9" x2="1622.7" y2="1625.9" stroke="#231f20" stroke-width="1.4" />
<line x1="1616.1" y1="1611.1" x2="1622.7" y2="1611.1" stroke="#231f20" stroke-width="1.4" />
<line x1="1616.1" y1="1599.5" x2="1622.7" y2="1599.5" stroke="#231f20" stroke-width="1.4" />
<line x1="1616.1" y1="1590.1" x2="1622.7" y2="1590.1" stroke="#231f20" stroke-width="1.4" />
<line x1="1616.1" y1="1582.1" x2="1622.7" y2="1582.1" stroke="#231f20" stroke-width="1.4" />
<line x1="1616.1" y1="1575.2" x2="1622.7" y2="1575.2" stroke="#231f20" stroke-width="1.4" />
<line x1="1616.1" y1="1569.1" x2="1622.7" y2="1569.1" stroke="#231f20" stroke-width="1.4" />
<line x1="1616.1" y1="1527.9" x2="1622.7" y2="1527.9" stroke="#231f20" stroke-width="1.4" />
<line x1="1616.1" y1="1506.9" x2="1622.7" y2="1506.9" stroke="#231f20" stroke-width="1.4" />
<line x1="1616.1" y1="1492.1" x2="1622.7" y2="1492.1" stroke="#231f20" stroke-width="1.4" />
<line x1="1616.1" y1="1480.5" x2="1622.7" y2="1480.5" stroke="#231f20" stroke-width="1.4" />
<line x1="1616.1" y1="1471.1" x2="1622.7" y2="1471.1" stroke="#231f20" stroke-width="1.4" />
<line x1="1616.1" y1="1463.1" x2="1622.7" y2="1463.1" stroke="#231f20" stroke-width="1.4" />
<line x1="1616.1" y1="1456.2" x2="1622.7" y2="1456.2" stroke="#231f20" stroke-width="1.4" />
<line x1="1616.1" y1="1450.1" x2="1622.7" y2="1450.1" stroke="#231f20" stroke-width="1.4" />
<line x1="1616.1" y1="1408.9" x2="1622.7" y2="1408.9" stroke="#231f20" stroke-width="1.4" />
<line x1="1616.1" y1="1387.9" x2="1622.7" y2="1387.9" stroke="#231f20" stroke-width="1.4" />
<line x1="1616.1" y1="1373.1" x2="1622.7" y2="1373.1" stroke="#231f20" stroke-width="1.4" />
<text x="1605.5" y="1811.9" font-size="26" fill="#454545" text-anchor="end" textLength="45.7" lengthAdjust="spacingAndGlyphs">10<tspan font-size="16.5" dy="-8.2">−11</tspan></text>
<text x="1605.5" y="1695.5" font-size="26" fill="#454545" text-anchor="end" textLength="50.0" lengthAdjust="spacingAndGlyphs">10<tspan font-size="16.5" dy="-8.2">−10</tspan></text>
<text x="1605.5" y="1574.7" font-size="26" fill="#454545" text-anchor="end" textLength="43.1" lengthAdjust="spacingAndGlyphs">10<tspan font-size="16.5" dy="-8.2">−9</tspan></text>
<text x="1605.5" y="1454.1" font-size="26" fill="#454545" text-anchor="end" textLength="43.1" lengthAdjust="spacingAndGlyphs">10<tspan font-size="16.5" dy="-8.2">−8</tspan></text>
<polyline points="1629.1,1580.2 1639.0,1611.0 1664.1,1600.7 1706.6,1576.8 1765.1,1540.7 1790.9,1578.7 1832.7,1615.9 1874.8,1654.3 2043.0,1637.6 2127.7,1628.5" fill="none" stroke="#d2353a" stroke-width="4.5" stroke-linejoin="round" opacity="0.78" />
<circle cx="1629.1" cy="1580.2" r="8.3" fill="#d2353a" opacity="0.78"/>
<circle cx="1639.0" cy="1611.0" r="8.3" fill="#d2353a" opacity="0.78"/>
<circle cx="1664.1" cy="1600.7" r="8.3" fill="#d2353a" opacity="0.78"/>
<circle cx="1706.6" cy="1576.8" r="8.3" fill="#d2353a" opacity="0.78"/>
<circle cx="1765.1" cy="1540.7" r="8.3" fill="#d2353a" opacity="0.78"/>
<circle cx="1790.9" cy="1578.7" r="8.3" fill="#d2353a" opacity="0.78"/>
<circle cx="1832.7" cy="1615.9" r="8.3" fill="#d2353a" opacity="0.78"/>
<circle cx="1874.8" cy="1654.3" r="8.3" fill="#d2353a" opacity="0.78"/>
<circle cx="2043.0" cy="1637.6" r="8.3" fill="#d2353a" opacity="0.78"/>
<circle cx="2127.7" cy="1628.5" r="8.3" fill="#d2353a" opacity="0.78"/>
<polyline points="1628.7,1498.2 1639.4,1497.1 1664.1,1536.2 1681.1,1550.6 1706.6,1549.5 1748.4,1568.1 1790.9,1542.6 1832.7,1554.4 2043.0,1498.2 2127.7,1463.7" fill="none" stroke="#0773c2" stroke-width="4.5" stroke-linejoin="round" opacity="0.78" />
<circle cx="1628.7" cy="1498.2" r="8.3" fill="#0773c2" opacity="0.78"/>
<circle cx="1639.4" cy="1497.1" r="8.3" fill="#0773c2" opacity="0.78"/>
<circle cx="1664.1" cy="1536.2" r="8.3" fill="#0773c2" opacity="0.78"/>
<circle cx="1681.1" cy="1550.6" r="8.3" fill="#0773c2" opacity="0.78"/>
<circle cx="1706.6" cy="1549.5" r="8.3" fill="#0773c2" opacity="0.78"/>
<circle cx="1748.4" cy="1568.1" r="8.3" fill="#0773c2" opacity="0.78"/>
<circle cx="1790.9" cy="1542.6" r="8.3" fill="#0773c2" opacity="0.78"/>
<circle cx="1832.7" cy="1554.4" r="8.3" fill="#0773c2" opacity="0.78"/>
<circle cx="2043.0" cy="1498.2" r="8.3" fill="#0773c2" opacity="0.78"/>
<circle cx="2127.7" cy="1463.7" r="8.3" fill="#0773c2" opacity="0.78"/>
<rect x="1942.0" y="1359.6" width="136.3" height="71.4" fill="#ffffff" stroke="#231f20" stroke-width="1.4"/>
<line x1="1951.9" y1="1380.1" x2="1991.0" y2="1380.1" stroke="#d2353a" stroke-width="4.5" opacity="0.78"/>
<circle cx="1971.5" cy="1380.1" r="8.3" fill="#d2353a" opacity="0.78"/>
<text x="1999.4" y="1388.0" font-size="27" fill="#231f20" textLength="69.0" lengthAdjust="spacingAndGlyphs">n-FET</text>
<line x1="1951.9" y1="1409.4" x2="1991.0" y2="1409.4" stroke="#0773c2" stroke-width="4.5" opacity="0.78"/>
<circle cx="1971.5" cy="1409.4" r="8.3" fill="#0773c2" opacity="0.78"/>
<text x="1999.4" y="1416.6" font-size="27" fill="#231f20" textLength="69.8" lengthAdjust="spacingAndGlyphs">p-FET</text>
<text x="1894.6" y="1877.3" font-size="27" fill="#231f20" text-anchor="middle" textLength="198.2" lengthAdjust="spacingAndGlyphs">Temperature (K)</text>
<text x="1530.8" y="1580.2" font-size="27" fill="#231f20" text-anchor="middle" textLength="105.9" lengthAdjust="spacingAndGlyphs" transform="rotate(-90 1530.8 1580.2)">S<tspan font-size="19" dy="8.0" font-style="normal">vg</tspan><tspan dy="-8.0"> </tspan><tspan font-style="italic">f</tspan> (V<tspan font-size="19" dy="-9.5" font-style="normal">2</tspan><tspan dy="9.5">)</tspan></text>
<text x="1509.5" y="1344.8" font-size="39" font-weight="bold" fill="#231f20" stroke="#231f20" stroke-width="1.3" stroke-linejoin="round" textLength="25.5" lengthAdjust="spacingAndGlyphs">g</text>
<defs><linearGradient id="ag" x1="0" x2="1" y1="0" y2="0"><stop offset="0" stop-color="#8c98b0" stop-opacity="0.08"/><stop offset="0.5" stop-color="#8c98b0" stop-opacity="1"/></linearGradient></defs>
<rect x="220.8" y="1953.1" width="319.3" height="263.9" fill="#d9dfe8" />
<rect x="679.3" y="1952.6" width="1280.2" height="264.4" fill="#d9dfe8" />
<path d="M554.5,2073.8 L617.5,2073.8 L610.5,2062.8 L654.2,2081.2 L610.5,2099.6 L617.5,2088.6 L554.5,2088.6 Z" fill="url(#ag)"/>
<text x="160.8" y="1984.0" font-size="39" font-weight="bold" fill="#231f20" stroke="#231f20" stroke-width="1.3" stroke-linejoin="round" textLength="25.5" lengthAdjust="spacingAndGlyphs">h</text>
<text x="240.2" y="1992.0" font-size="29" fill="#231f20" font-weight="bold" stroke="#231f20" stroke-width="0.7" textLength="161.7" lengthAdjust="spacingAndGlyphs">Challenges</text>
<circle cx="258.1" cy="2031.2" r="4.6" fill="#3d4e6c"/>
<text x="273.3" y="2039.7" font-size="27" fill="#231f20" textLength="228.4" lengthAdjust="spacingAndGlyphs">Lower on-currents</text>
<circle cx="258.1" cy="2062.8" r="4.6" fill="#3d4e6c"/>
<text x="273.3" y="2071.3" font-size="27" fill="#231f20" textLength="251.0" lengthAdjust="spacingAndGlyphs"><tspan font-style="italic">V</tspan><tspan font-size="19" dy="8.0" font-style="normal">th</tspan><tspan dy="-8.0"> and </tspan><tspan font-style="italic">V</tspan><tspan font-size="19" dy="8.0" font-style="normal">DD</tspan><tspan dy="-8.0"> increase</tspan></text>
<circle cx="258.1" cy="2093.2" r="4.6" fill="#3d4e6c"/>
<text x="273.3" y="2101.7" font-size="27" fill="#231f20" textLength="164.8" lengthAdjust="spacingAndGlyphs">SS saturation</text>
<circle cx="258.1" cy="2124.7" r="4.6" fill="#3d4e6c"/>
<text x="273.3" y="2133.2" font-size="27" fill="#231f20" textLength="118.1" lengthAdjust="spacingAndGlyphs">Inflection</text>
<circle cx="258.1" cy="2156.2" r="4.6" fill="#3d4e6c"/>
<text x="273.3" y="2164.7" font-size="27" fill="#231f20" textLength="152.2" lengthAdjust="spacingAndGlyphs">Self-heating</text>
<circle cx="258.1" cy="2187.2" r="4.6" fill="#3d4e6c"/>
<text x="273.3" y="2195.7" font-size="27" fill="#231f20" textLength="205.3" lengthAdjust="spacingAndGlyphs">Noise, variability</text>
<text x="1249.1" y="1994.2" font-size="29" fill="#231f20" font-weight="bold" stroke="#231f20" stroke-width="0.7" textLength="135.4" lengthAdjust="spacingAndGlyphs">Solutions</text>
<text x="704.0" y="2039.7" font-size="27" fill="#231f20" font-weight="bold" stroke="#231f20" stroke-width="0.7" textLength="282.0" lengthAdjust="spacingAndGlyphs">Reduction of band tail</text>
<circle cx="710.8" cy="2062.8" r="4.6" fill="#3d4e6c"/>
<text x="726.6" y="2071.3" font-size="27" fill="#231f20" textLength="399.6" lengthAdjust="spacingAndGlyphs">SS and infelection improvement</text>
<circle cx="710.8" cy="2093.2" r="4.6" fill="#3d4e6c"/>
<text x="726.6" y="2101.7" font-size="27" fill="#231f20" textLength="279.3" lengthAdjust="spacingAndGlyphs">Mobility enhancement</text>
<circle cx="710.8" cy="2124.7" r="4.6" fill="#3d4e6c"/>
<text x="726.6" y="2133.2" font-size="27" fill="#231f20" textLength="196.9" lengthAdjust="spacingAndGlyphs">Noise reduction</text>
<circle cx="710.8" cy="2156.2" r="4.6" fill="#3d4e6c"/>
<text x="726.6" y="2164.7" font-size="27" fill="#231f20" textLength="253.6" lengthAdjust="spacingAndGlyphs"><tspan font-style="italic">V</tspan><tspan font-size="19" dy="8.0" font-style="normal">DD</tspan><tspan dy="-8.0"> and </tspan><tspan font-style="italic">V</tspan><tspan font-size="19" dy="8.0" font-style="normal">th</tspan><tspan dy="-8.0"> lowering</tspan></text>
<text x="1191.7" y="2039.8" font-size="27" fill="#231f20" font-weight="bold" stroke="#231f20" stroke-width="0.7" textLength="347.4" lengthAdjust="spacingAndGlyphs">Technologies to control <tspan font-style="italic">V</tspan><tspan font-size="19" dy="8.0" font-style="normal">th</tspan></text>
<circle cx="1199.0" cy="2062.2" r="4.6" fill="#3d4e6c"/>
<text x="1214.2" y="2070.7" font-size="27" fill="#231f20" textLength="157.9" lengthAdjust="spacingAndGlyphs"><tspan font-style="italic">V</tspan><tspan font-size="19" dy="8.0" font-style="normal">DD</tspan><tspan dy="-8.0"> lowering</tspan></text>
<circle cx="1199.0" cy="2093.2" r="4.6" fill="#3d4e6c"/>
<text x="1214.2" y="2101.7" font-size="27" fill="#231f20" textLength="273.2" lengthAdjust="spacingAndGlyphs">Self-heating decrease</text>
<text x="1611.9" y="2039.8" font-size="27" fill="#231f20" font-weight="bold" stroke="#231f20" stroke-width="0.7" textLength="293.4" lengthAdjust="spacingAndGlyphs">New channel materials</text>
<circle cx="1618.6" cy="2062.2" r="4.6" fill="#3d4e6c"/>
<text x="1635.5" y="2070.7" font-size="27" fill="#231f20" textLength="301.3" lengthAdjust="spacingAndGlyphs">Increase carrier mobility</text>
<circle cx="1618.6" cy="2093.2" r="4.6" fill="#3d4e6c"/>
<text x="1635.5" y="2101.7" font-size="27" fill="#231f20" textLength="243.9" lengthAdjust="spacingAndGlyphs">Increase on-current</text>
<circle cx="1618.6" cy="2124.3" r="4.6" fill="#3d4e6c"/>
<text x="1635.5" y="2132.8" font-size="27" fill="#231f20" textLength="260.3" lengthAdjust="spacingAndGlyphs">Decrease <tspan font-style="italic">V</tspan><tspan font-size="19" dy="8.0" font-style="normal">DD</tspan><tspan dy="-8.0"> and </tspan><tspan font-style="italic">V</tspan><tspan font-size="19" dy="8.0" font-style="normal">th</tspan></text>
</svg>
</body></html>
